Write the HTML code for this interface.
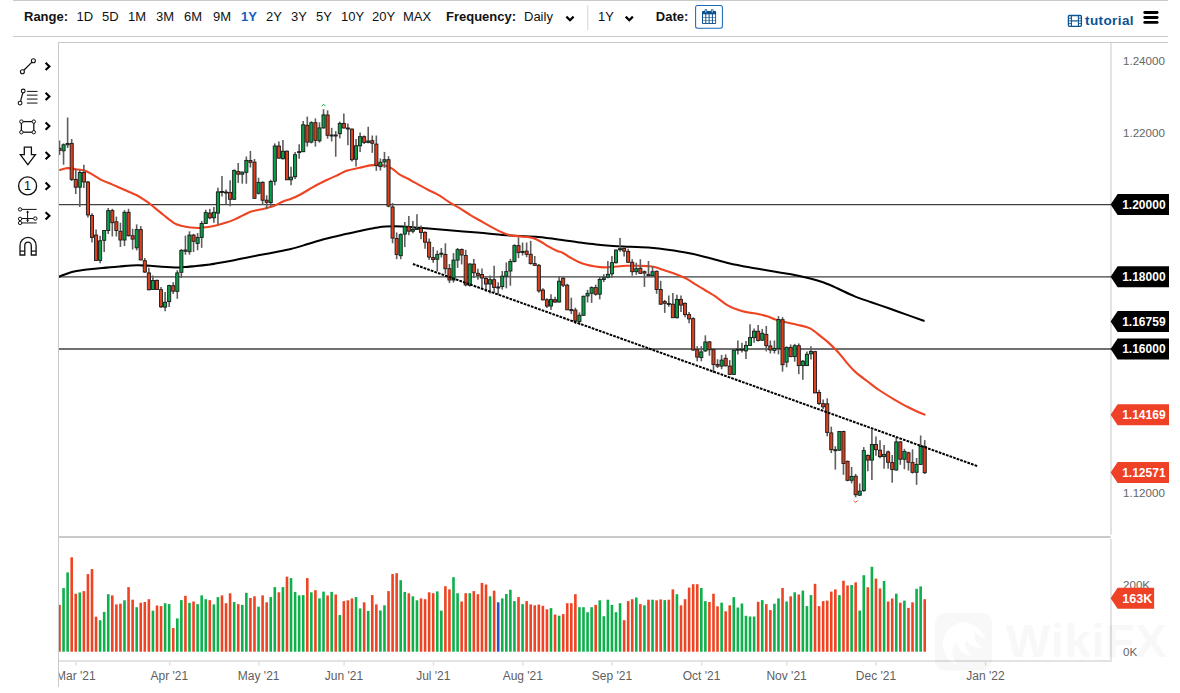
<!DOCTYPE html>
<html><head><meta charset="utf-8"><title>Chart</title>
<style>
html,body{margin:0;padding:0;background:#fff;}
body{width:1180px;height:693px;position:relative;overflow:hidden;font-family:"Liberation Sans",sans-serif;}
.tb span{position:absolute;top:9px;font-size:13px;line-height:16px;color:#111;white-space:nowrap;}
.tb .b{font-weight:bold;}
</style></head><body>
<svg width="1180" height="693" viewBox="0 0 1180 693" style="position:absolute;left:0;top:0">
<defs><clipPath id="cp"><rect x="59" y="43" width="1052" height="618"/></clipPath></defs>
<g fill="none" stroke="#c9c9c9" stroke-width="1">
<line x1="13" y1="0.5" x2="1168" y2="0.5"/>
<line x1="13" y1="36.5" x2="1168" y2="36.5"/>
<line x1="58" y1="42.5" x2="1168" y2="42.5"/>
<line x1="58.5" y1="42" x2="58.5" y2="687"/>
</g>
<line x1="1111" y1="43" x2="1111" y2="534.8" stroke="#e3e3e3" stroke-width="2"/>
<line x1="1111" y1="539" x2="1111" y2="662" stroke="#e3e3e3" stroke-width="2"/>
<line x1="59" y1="537" x2="1110.6" y2="537" stroke="#c9c9c9" stroke-width="2"/>
<line x1="59" y1="661" x2="1110" y2="661" stroke="#e3e3e3" stroke-width="2"/>
<line x1="76.0" y1="661" x2="76.0" y2="665.8" stroke="#e2e2e2" stroke-width="1.5"/>
<line x1="169.6" y1="661" x2="169.6" y2="665.8" stroke="#e2e2e2" stroke-width="1.5"/>
<line x1="258.9" y1="661" x2="258.9" y2="665.8" stroke="#e2e2e2" stroke-width="1.5"/>
<line x1="344.1" y1="661" x2="344.1" y2="665.8" stroke="#e2e2e2" stroke-width="1.5"/>
<line x1="433.5" y1="661" x2="433.5" y2="665.8" stroke="#e2e2e2" stroke-width="1.5"/>
<line x1="523.0" y1="661" x2="523.0" y2="665.8" stroke="#e2e2e2" stroke-width="1.5"/>
<line x1="612.2" y1="661" x2="612.2" y2="665.8" stroke="#e2e2e2" stroke-width="1.5"/>
<line x1="701.7" y1="661" x2="701.7" y2="665.8" stroke="#e2e2e2" stroke-width="1.5"/>
<line x1="786.8" y1="661" x2="786.8" y2="665.8" stroke="#e2e2e2" stroke-width="1.5"/>
<line x1="876.2" y1="661" x2="876.2" y2="665.8" stroke="#e2e2e2" stroke-width="1.5"/>
<line x1="985.6" y1="661" x2="985.6" y2="665.8" stroke="#e2e2e2" stroke-width="1.5"/>
<g opacity="0.023"><path fill-rule="evenodd" d="M945,613 h37 a10,10 0 0 1 10,10 v37.5 a10,10 0 0 1 -10,10 h-37 a10,10 0 0 1 -10,-10 v-37.5 a10,10 0 0 1 10,-10 Z M963,622 C950,624 942,634 943,646 C944,656 950,663 958,665 C951,657 951,648 956,643 C958,650 964,655 972,656 C966,651 964,645 966,640 C970,646 976,649 983,648 C976,644 973,638 975,632 C978,636 982,638 986,638 C982,630 974,622 963,622 Z" fill="#000"/><text x="1006" y="657" font-family="Liberation Sans, sans-serif" font-weight="bold" font-size="47" letter-spacing="0.8" fill="#000">WikiFX</text></g>
<g clip-path="url(#cp)">
<line x1="59" y1="204.67" x2="1111" y2="204.67" stroke="#404040" stroke-width="1.3"/>
<line x1="59" y1="276.83" x2="1111" y2="276.83" stroke="#404040" stroke-width="1.3"/>
<line x1="59" y1="349.0" x2="1111" y2="349.0" stroke="#404040" stroke-width="1.3"/>
<rect x="58.20" y="604.9" width="2.6" height="46.8" fill="#ef4423"/>
<rect x="62.26" y="588.1" width="2.6" height="63.6" fill="#0db04b"/>
<rect x="66.32" y="572.4" width="2.6" height="79.3" fill="#0db04b"/>
<rect x="70.39" y="557.3" width="2.6" height="94.4" fill="#ef4423"/>
<rect x="74.45" y="593.7" width="2.6" height="58.0" fill="#ef4423"/>
<rect x="78.51" y="592.5" width="2.6" height="59.2" fill="#0db04b"/>
<rect x="82.57" y="591.1" width="2.6" height="60.6" fill="#ef4423"/>
<rect x="86.63" y="574.1" width="2.6" height="77.6" fill="#ef4423"/>
<rect x="90.70" y="569.1" width="2.6" height="82.6" fill="#ef4423"/>
<rect x="94.76" y="616.7" width="2.6" height="35.0" fill="#ef4423"/>
<rect x="98.82" y="620.2" width="2.6" height="31.5" fill="#0db04b"/>
<rect x="102.88" y="611.9" width="2.6" height="39.8" fill="#0db04b"/>
<rect x="106.94" y="594.2" width="2.6" height="57.5" fill="#0db04b"/>
<rect x="111.01" y="595.4" width="2.6" height="56.3" fill="#ef4423"/>
<rect x="115.07" y="604.4" width="2.6" height="47.3" fill="#ef4423"/>
<rect x="119.13" y="603.7" width="2.6" height="48.0" fill="#ef4423"/>
<rect x="123.19" y="600.3" width="2.6" height="51.4" fill="#0db04b"/>
<rect x="127.25" y="587.1" width="2.6" height="64.6" fill="#ef4423"/>
<rect x="131.32" y="599.7" width="2.6" height="52.0" fill="#ef4423"/>
<rect x="135.38" y="607.2" width="2.6" height="44.5" fill="#0db04b"/>
<rect x="139.44" y="602.7" width="2.6" height="49.0" fill="#ef4423"/>
<rect x="143.50" y="602.0" width="2.6" height="49.7" fill="#ef4423"/>
<rect x="147.56" y="599.2" width="2.6" height="52.5" fill="#ef4423"/>
<rect x="151.63" y="610.6" width="2.6" height="41.1" fill="#0db04b"/>
<rect x="155.69" y="605.5" width="2.6" height="46.2" fill="#ef4423"/>
<rect x="159.75" y="606.1" width="2.6" height="45.6" fill="#ef4423"/>
<rect x="163.81" y="603.2" width="2.6" height="48.5" fill="#0db04b"/>
<rect x="167.87" y="604.1" width="2.6" height="47.6" fill="#0db04b"/>
<rect x="171.94" y="628.0" width="2.6" height="23.7" fill="#ef4423"/>
<rect x="176.00" y="618.4" width="2.6" height="33.3" fill="#0db04b"/>
<rect x="180.06" y="600.1" width="2.6" height="51.6" fill="#0db04b"/>
<rect x="184.12" y="595.8" width="2.6" height="55.9" fill="#ef4423"/>
<rect x="188.18" y="602.9" width="2.6" height="48.8" fill="#0db04b"/>
<rect x="192.25" y="601.5" width="2.6" height="50.2" fill="#ef4423"/>
<rect x="196.31" y="604.1" width="2.6" height="47.6" fill="#0db04b"/>
<rect x="200.37" y="595.4" width="2.6" height="56.3" fill="#0db04b"/>
<rect x="204.43" y="599.2" width="2.6" height="52.5" fill="#0db04b"/>
<rect x="208.49" y="600.1" width="2.6" height="51.6" fill="#ef4423"/>
<rect x="212.56" y="604.4" width="2.6" height="47.3" fill="#0db04b"/>
<rect x="216.62" y="597.1" width="2.6" height="54.6" fill="#0db04b"/>
<rect x="220.68" y="595.4" width="2.6" height="56.3" fill="#ef4423"/>
<rect x="224.74" y="603.2" width="2.6" height="48.5" fill="#ef4423"/>
<rect x="228.80" y="593.3" width="2.6" height="58.4" fill="#ef4423"/>
<rect x="232.87" y="602.0" width="2.6" height="49.7" fill="#0db04b"/>
<rect x="236.93" y="604.1" width="2.6" height="47.6" fill="#ef4423"/>
<rect x="240.99" y="604.9" width="2.6" height="46.8" fill="#0db04b"/>
<rect x="245.05" y="592.8" width="2.6" height="58.9" fill="#0db04b"/>
<rect x="249.11" y="598.0" width="2.6" height="53.7" fill="#ef4423"/>
<rect x="253.18" y="596.3" width="2.6" height="55.4" fill="#ef4423"/>
<rect x="257.24" y="606.7" width="2.6" height="45.0" fill="#0db04b"/>
<rect x="261.30" y="595.4" width="2.6" height="56.3" fill="#ef4423"/>
<rect x="265.36" y="602.3" width="2.6" height="49.4" fill="#ef4423"/>
<rect x="269.42" y="597.1" width="2.6" height="54.6" fill="#0db04b"/>
<rect x="273.49" y="587.1" width="2.6" height="64.6" fill="#0db04b"/>
<rect x="277.55" y="592.3" width="2.6" height="59.4" fill="#ef4423"/>
<rect x="281.61" y="587.1" width="2.6" height="64.6" fill="#0db04b"/>
<rect x="285.67" y="576.7" width="2.6" height="75.0" fill="#ef4423"/>
<rect x="289.73" y="578.1" width="2.6" height="73.6" fill="#0db04b"/>
<rect x="293.80" y="591.9" width="2.6" height="59.8" fill="#0db04b"/>
<rect x="297.86" y="595.4" width="2.6" height="56.3" fill="#0db04b"/>
<rect x="301.92" y="595.1" width="2.6" height="56.6" fill="#0db04b"/>
<rect x="305.98" y="578.1" width="2.6" height="73.6" fill="#ef4423"/>
<rect x="310.04" y="592.3" width="2.6" height="59.4" fill="#0db04b"/>
<rect x="314.11" y="590.2" width="2.6" height="61.5" fill="#ef4423"/>
<rect x="318.17" y="598.4" width="2.6" height="53.3" fill="#0db04b"/>
<rect x="322.23" y="591.6" width="2.6" height="60.1" fill="#0db04b"/>
<rect x="326.29" y="595.4" width="2.6" height="56.3" fill="#ef4423"/>
<rect x="330.35" y="591.9" width="2.6" height="59.8" fill="#0db04b"/>
<rect x="334.42" y="594.5" width="2.6" height="57.2" fill="#ef4423"/>
<rect x="338.48" y="615.0" width="2.6" height="36.7" fill="#0db04b"/>
<rect x="342.54" y="601.1" width="2.6" height="50.6" fill="#ef4423"/>
<rect x="346.60" y="600.3" width="2.6" height="51.4" fill="#ef4423"/>
<rect x="350.66" y="598.4" width="2.6" height="53.3" fill="#ef4423"/>
<rect x="354.73" y="597.1" width="2.6" height="54.6" fill="#0db04b"/>
<rect x="358.79" y="608.4" width="2.6" height="43.3" fill="#0db04b"/>
<rect x="362.85" y="602.3" width="2.6" height="49.4" fill="#ef4423"/>
<rect x="366.91" y="611.0" width="2.6" height="40.7" fill="#0db04b"/>
<rect x="370.97" y="595.1" width="2.6" height="56.6" fill="#ef4423"/>
<rect x="375.04" y="604.4" width="2.6" height="47.3" fill="#ef4423"/>
<rect x="379.10" y="610.5" width="2.6" height="41.2" fill="#0db04b"/>
<rect x="383.16" y="605.3" width="2.6" height="46.4" fill="#0db04b"/>
<rect x="387.22" y="591.1" width="2.6" height="60.6" fill="#ef4423"/>
<rect x="391.28" y="574.1" width="2.6" height="77.6" fill="#ef4423"/>
<rect x="395.35" y="573.2" width="2.6" height="78.5" fill="#ef4423"/>
<rect x="399.41" y="580.2" width="2.6" height="71.5" fill="#0db04b"/>
<rect x="403.47" y="591.9" width="2.6" height="59.8" fill="#0db04b"/>
<rect x="407.53" y="593.3" width="2.6" height="58.4" fill="#ef4423"/>
<rect x="411.59" y="596.3" width="2.6" height="55.4" fill="#0db04b"/>
<rect x="415.66" y="600.3" width="2.6" height="51.4" fill="#0db04b"/>
<rect x="419.72" y="598.4" width="2.6" height="53.3" fill="#ef4423"/>
<rect x="423.78" y="599.2" width="2.6" height="52.5" fill="#ef4423"/>
<rect x="427.84" y="592.3" width="2.6" height="59.4" fill="#ef4423"/>
<rect x="431.90" y="593.2" width="2.6" height="58.5" fill="#ef4423"/>
<rect x="435.97" y="591.4" width="2.6" height="60.3" fill="#0db04b"/>
<rect x="440.03" y="610.6" width="2.6" height="41.1" fill="#0db04b"/>
<rect x="444.09" y="586.2" width="2.6" height="65.5" fill="#ef4423"/>
<rect x="448.15" y="589.4" width="2.6" height="62.3" fill="#ef4423"/>
<rect x="452.21" y="577.2" width="2.6" height="74.5" fill="#0db04b"/>
<rect x="456.28" y="593.2" width="2.6" height="58.5" fill="#0db04b"/>
<rect x="460.34" y="601.5" width="2.6" height="50.2" fill="#ef4423"/>
<rect x="464.40" y="593.2" width="2.6" height="58.5" fill="#ef4423"/>
<rect x="468.46" y="593.2" width="2.6" height="58.5" fill="#0db04b"/>
<rect x="472.52" y="591.1" width="2.6" height="60.6" fill="#ef4423"/>
<rect x="476.59" y="594.2" width="2.6" height="57.5" fill="#ef4423"/>
<rect x="480.65" y="582.9" width="2.6" height="68.8" fill="#ef4423"/>
<rect x="484.71" y="584.5" width="2.6" height="67.2" fill="#ef4423"/>
<rect x="488.77" y="596.3" width="2.6" height="55.4" fill="#0db04b"/>
<rect x="492.83" y="590.7" width="2.6" height="61.0" fill="#ef4423"/>
<rect x="496.90" y="602.3" width="2.6" height="49.4" fill="#2b50c8"/>
<rect x="500.96" y="598.4" width="2.6" height="53.3" fill="#0db04b"/>
<rect x="505.02" y="594.0" width="2.6" height="57.7" fill="#0db04b"/>
<rect x="509.08" y="589.7" width="2.6" height="62.0" fill="#0db04b"/>
<rect x="513.14" y="601.1" width="2.6" height="50.6" fill="#0db04b"/>
<rect x="517.21" y="597.1" width="2.6" height="54.6" fill="#ef4423"/>
<rect x="521.27" y="604.1" width="2.6" height="47.6" fill="#0db04b"/>
<rect x="525.33" y="601.1" width="2.6" height="50.6" fill="#ef4423"/>
<rect x="529.39" y="604.4" width="2.6" height="47.3" fill="#ef4423"/>
<rect x="533.45" y="605.3" width="2.6" height="46.4" fill="#ef4423"/>
<rect x="537.52" y="604.6" width="2.6" height="47.1" fill="#ef4423"/>
<rect x="541.58" y="605.8" width="2.6" height="45.9" fill="#ef4423"/>
<rect x="545.64" y="609.3" width="2.6" height="42.4" fill="#ef4423"/>
<rect x="549.70" y="608.1" width="2.6" height="43.6" fill="#0db04b"/>
<rect x="553.76" y="614.5" width="2.6" height="37.2" fill="#ef4423"/>
<rect x="557.83" y="615.7" width="2.6" height="36.0" fill="#0db04b"/>
<rect x="561.89" y="614.1" width="2.6" height="37.6" fill="#ef4423"/>
<rect x="565.95" y="603.2" width="2.6" height="48.5" fill="#ef4423"/>
<rect x="570.01" y="603.2" width="2.6" height="48.5" fill="#ef4423"/>
<rect x="574.07" y="594.2" width="2.6" height="57.5" fill="#ef4423"/>
<rect x="578.14" y="607.2" width="2.6" height="44.5" fill="#0db04b"/>
<rect x="582.20" y="607.2" width="2.6" height="44.5" fill="#0db04b"/>
<rect x="586.26" y="612.2" width="2.6" height="39.5" fill="#0db04b"/>
<rect x="590.32" y="607.2" width="2.6" height="44.5" fill="#0db04b"/>
<rect x="594.38" y="604.9" width="2.6" height="46.8" fill="#ef4423"/>
<rect x="598.45" y="600.3" width="2.6" height="51.4" fill="#0db04b"/>
<rect x="602.51" y="616.2" width="2.6" height="35.5" fill="#0db04b"/>
<rect x="606.57" y="599.7" width="2.6" height="52.0" fill="#0db04b"/>
<rect x="610.63" y="604.9" width="2.6" height="46.8" fill="#0db04b"/>
<rect x="614.69" y="612.2" width="2.6" height="39.5" fill="#0db04b"/>
<rect x="618.76" y="603.2" width="2.6" height="48.5" fill="#0db04b"/>
<rect x="622.82" y="620.2" width="2.6" height="31.5" fill="#ef4423"/>
<rect x="626.88" y="601.1" width="2.6" height="50.6" fill="#ef4423"/>
<rect x="630.94" y="599.2" width="2.6" height="52.5" fill="#ef4423"/>
<rect x="635.00" y="597.5" width="2.6" height="54.2" fill="#0db04b"/>
<rect x="639.07" y="604.1" width="2.6" height="47.6" fill="#ef4423"/>
<rect x="643.13" y="605.3" width="2.6" height="46.4" fill="#0db04b"/>
<rect x="647.19" y="599.7" width="2.6" height="52.0" fill="#ef4423"/>
<rect x="651.25" y="599.7" width="2.6" height="52.0" fill="#0db04b"/>
<rect x="655.31" y="600.3" width="2.6" height="51.4" fill="#ef4423"/>
<rect x="659.38" y="599.4" width="2.6" height="52.3" fill="#ef4423"/>
<rect x="663.44" y="600.1" width="2.6" height="51.6" fill="#0db04b"/>
<rect x="667.50" y="599.7" width="2.6" height="52.0" fill="#ef4423"/>
<rect x="671.56" y="589.4" width="2.6" height="62.3" fill="#ef4423"/>
<rect x="675.62" y="594.2" width="2.6" height="57.5" fill="#0db04b"/>
<rect x="679.69" y="605.3" width="2.6" height="46.4" fill="#ef4423"/>
<rect x="683.75" y="599.2" width="2.6" height="52.5" fill="#ef4423"/>
<rect x="687.81" y="587.6" width="2.6" height="64.1" fill="#ef4423"/>
<rect x="691.87" y="584.2" width="2.6" height="67.5" fill="#ef4423"/>
<rect x="695.93" y="584.2" width="2.6" height="67.5" fill="#ef4423"/>
<rect x="700.00" y="588.0" width="2.6" height="63.7" fill="#0db04b"/>
<rect x="704.06" y="601.1" width="2.6" height="50.6" fill="#0db04b"/>
<rect x="708.12" y="602.0" width="2.6" height="49.7" fill="#ef4423"/>
<rect x="712.18" y="593.7" width="2.6" height="58.0" fill="#ef4423"/>
<rect x="716.24" y="606.3" width="2.6" height="45.4" fill="#ef4423"/>
<rect x="720.31" y="602.7" width="2.6" height="49.0" fill="#0db04b"/>
<rect x="724.37" y="611.3" width="2.6" height="40.4" fill="#ef4423"/>
<rect x="728.43" y="605.3" width="2.6" height="46.4" fill="#ef4423"/>
<rect x="732.49" y="597.1" width="2.6" height="54.6" fill="#0db04b"/>
<rect x="736.55" y="607.5" width="2.6" height="44.2" fill="#0db04b"/>
<rect x="740.62" y="603.5" width="2.6" height="48.2" fill="#0db04b"/>
<rect x="744.68" y="615.8" width="2.6" height="35.9" fill="#0db04b"/>
<rect x="748.74" y="616.5" width="2.6" height="35.2" fill="#0db04b"/>
<rect x="752.80" y="616.5" width="2.6" height="35.2" fill="#0db04b"/>
<rect x="756.86" y="601.8" width="2.6" height="49.9" fill="#ef4423"/>
<rect x="760.93" y="600.1" width="2.6" height="51.6" fill="#0db04b"/>
<rect x="764.99" y="604.1" width="2.6" height="47.6" fill="#ef4423"/>
<rect x="769.05" y="610.1" width="2.6" height="41.6" fill="#ef4423"/>
<rect x="773.11" y="603.7" width="2.6" height="48.0" fill="#0db04b"/>
<rect x="777.17" y="598.4" width="2.6" height="53.3" fill="#0db04b"/>
<rect x="781.24" y="588.0" width="2.6" height="63.7" fill="#ef4423"/>
<rect x="785.30" y="601.5" width="2.6" height="50.2" fill="#0db04b"/>
<rect x="789.36" y="596.3" width="2.6" height="55.4" fill="#ef4423"/>
<rect x="793.42" y="592.3" width="2.6" height="59.4" fill="#0db04b"/>
<rect x="797.48" y="594.5" width="2.6" height="57.2" fill="#ef4423"/>
<rect x="801.55" y="590.6" width="2.6" height="61.1" fill="#0db04b"/>
<rect x="805.61" y="606.1" width="2.6" height="45.6" fill="#0db04b"/>
<rect x="809.67" y="595.1" width="2.6" height="56.6" fill="#0db04b"/>
<rect x="813.73" y="583.8" width="2.6" height="67.9" fill="#ef4423"/>
<rect x="817.79" y="606.1" width="2.6" height="45.6" fill="#ef4423"/>
<rect x="821.86" y="601.1" width="2.6" height="50.6" fill="#ef4423"/>
<rect x="825.92" y="600.6" width="2.6" height="51.1" fill="#ef4423"/>
<rect x="829.98" y="591.6" width="2.6" height="60.1" fill="#ef4423"/>
<rect x="834.04" y="589.4" width="2.6" height="62.3" fill="#ef4423"/>
<rect x="838.10" y="595.1" width="2.6" height="56.6" fill="#0db04b"/>
<rect x="842.17" y="580.7" width="2.6" height="71.0" fill="#ef4423"/>
<rect x="846.23" y="585.5" width="2.6" height="66.2" fill="#ef4423"/>
<rect x="850.29" y="585.0" width="2.6" height="66.7" fill="#0db04b"/>
<rect x="854.35" y="582.4" width="2.6" height="69.3" fill="#ef4423"/>
<rect x="858.41" y="610.6" width="2.6" height="41.1" fill="#0db04b"/>
<rect x="862.48" y="575.2" width="2.6" height="76.5" fill="#0db04b"/>
<rect x="866.54" y="587.3" width="2.6" height="64.4" fill="#ef4423"/>
<rect x="870.60" y="566.8" width="2.6" height="84.9" fill="#0db04b"/>
<rect x="874.66" y="578.6" width="2.6" height="73.1" fill="#ef4423"/>
<rect x="878.72" y="588.5" width="2.6" height="63.2" fill="#ef4423"/>
<rect x="882.79" y="581.0" width="2.6" height="70.7" fill="#0db04b"/>
<rect x="886.85" y="601.5" width="2.6" height="50.2" fill="#ef4423"/>
<rect x="890.91" y="598.5" width="2.6" height="53.2" fill="#ef4423"/>
<rect x="894.97" y="593.7" width="2.6" height="58.0" fill="#0db04b"/>
<rect x="899.03" y="602.7" width="2.6" height="49.0" fill="#ef4423"/>
<rect x="903.10" y="600.6" width="2.6" height="51.1" fill="#0db04b"/>
<rect x="907.16" y="607.9" width="2.6" height="43.8" fill="#ef4423"/>
<rect x="911.22" y="602.3" width="2.6" height="49.4" fill="#ef4423"/>
<rect x="915.28" y="588.8" width="2.6" height="62.9" fill="#0db04b"/>
<rect x="919.34" y="586.4" width="2.6" height="65.3" fill="#0db04b"/>
<rect x="923.41" y="599.2" width="2.6" height="52.5" fill="#ef4423"/>
<path d="M59.0,276.7 C59.8,276.4 62.1,275.5 64.0,274.8 C65.9,274.1 68.8,272.8 71.0,272.2 C73.2,271.6 75.4,271.2 78.0,270.8 C80.6,270.4 83.1,270.0 87.0,269.6 C90.9,269.2 97.1,268.5 102.3,268.0 C107.5,267.5 114.1,266.8 119.6,266.4 C125.1,266.0 132.0,265.4 136.9,265.3 C141.8,265.2 146.1,265.6 150.0,265.8 C153.9,266.0 156.9,266.5 161.5,266.8 C166.1,267.1 175.1,267.5 178.8,267.5 C182.5,267.5 181.8,267.3 184.6,267.1 C187.4,266.9 192.0,266.4 196.1,266.0 C200.2,265.6 206.7,264.9 210.0,264.5 C213.3,264.1 213.0,264.0 216.9,263.3 C220.8,262.6 229.7,261.0 234.2,260.2 C238.7,259.4 241.4,258.7 245.0,258.0 C248.6,257.3 252.4,256.5 257.0,255.6 C261.6,254.7 268.5,253.6 273.9,252.5 C279.3,251.4 285.4,250.3 290.8,249.0 C296.2,247.7 302.4,245.7 307.8,244.1 C313.2,242.5 319.3,240.5 324.7,239.0 C330.1,237.5 336.3,236.1 341.7,234.9 C347.1,233.7 353.2,232.3 358.6,231.2 C364.0,230.1 371.2,228.6 375.6,227.8 C380.0,227.0 381.5,226.6 385.8,226.4 C390.1,226.2 397.3,226.2 402.7,226.4 C408.1,226.6 413.2,227.3 419.7,227.8 C426.2,228.3 434.2,229.0 443.4,229.8 C452.6,230.6 466.5,231.6 477.3,232.5 C488.1,233.4 501.4,234.9 511.2,235.6 C521.0,236.3 530.2,236.3 538.3,237.0 C546.4,237.7 555.5,239.1 562.0,240.0 C568.5,240.9 573.6,241.7 579.0,242.4 C584.4,243.1 590.5,243.9 595.9,244.5 C601.3,245.1 607.4,245.6 612.9,246.0 C618.4,246.4 623.9,246.5 630.0,246.8 C636.1,247.1 644.8,247.3 650.8,247.8 C656.8,248.3 661.8,248.9 667.8,249.7 C673.8,250.5 681.6,251.6 688.1,252.9 C694.6,254.2 702.0,256.2 708.5,257.8 C715.0,259.4 722.3,261.7 728.8,263.2 C735.3,264.7 742.7,266.1 749.2,267.3 C755.7,268.5 763.0,269.6 769.5,270.7 C776.0,271.8 783.3,272.9 789.8,274.1 C796.3,275.3 804.8,277.2 810.2,278.5 C815.6,279.8 819.4,280.9 823.7,282.5 C828.0,284.1 832.4,286.1 837.3,288.3 C842.2,290.5 848.8,293.9 854.2,296.1 C859.6,298.3 865.8,300.3 871.2,302.2 C876.6,304.1 882.7,306.1 888.1,308.0 C893.5,309.9 899.4,312.1 905.1,314.1 C910.8,316.1 920.7,319.7 923.7,320.8" fill="none" stroke="#000" stroke-width="2.05" stroke-linejoin="round" stroke-linecap="round"/>
<path d="M60.0,170.0 C60.6,169.8 62.7,169.1 64.0,168.8 C65.3,168.5 66.1,168.0 68.0,168.1 C69.9,168.2 73.2,168.8 75.8,169.2 C78.4,169.6 81.8,169.8 84.4,170.6 C87.0,171.4 89.4,172.9 92.2,174.4 C95.0,175.9 98.5,178.5 101.7,180.1 C104.9,181.7 108.5,182.8 112.1,184.4 C115.7,186.0 120.3,188.1 124.2,189.8 C128.1,191.5 133.0,193.3 136.3,195.0 C139.6,196.7 142.7,198.9 145.0,200.4 C147.3,201.9 147.8,202.2 150.7,204.5 C153.6,206.8 159.2,211.6 162.9,214.5 C166.6,217.4 170.6,220.9 173.7,222.8 C176.8,224.7 179.5,225.3 182.3,226.1 C185.1,226.9 188.2,227.2 191.0,227.5 C193.8,227.8 196.8,228.0 199.6,227.9 C202.4,227.8 205.5,227.4 208.3,227.0 C211.1,226.6 214.1,226.0 216.9,225.3 C219.7,224.6 222.8,223.6 225.6,222.7 C228.4,221.8 231.4,220.8 234.2,219.6 C237.0,218.4 240.4,216.6 242.9,215.4 C245.4,214.2 247.8,212.8 249.8,212.0 C251.8,211.2 252.8,211.2 255.4,210.6 C258.0,210.0 262.8,209.1 265.8,208.3 C268.8,207.5 271.6,206.8 274.4,205.7 C277.2,204.6 280.3,202.7 283.1,201.6 C285.9,200.5 288.9,199.7 291.7,198.6 C294.5,197.5 297.6,196.0 300.4,194.5 C303.2,193.0 306.2,191.1 309.0,189.5 C311.8,187.9 314.9,186.0 317.7,184.5 C320.5,183.0 323.5,181.5 326.3,180.2 C329.1,178.9 332.0,177.6 335.4,176.1 C338.8,174.6 343.6,171.9 347.5,170.6 C351.4,169.3 356.0,168.6 359.6,167.8 C363.2,167.0 367.2,165.9 370.0,165.4 C372.8,164.9 374.4,164.9 376.9,164.9 C379.4,164.9 383.1,165.1 385.6,165.7 C388.1,166.3 390.3,167.5 392.5,168.9 C394.7,170.3 396.9,172.8 399.4,174.4 C401.9,176.0 405.5,177.4 408.0,178.7 C410.5,180.0 411.7,180.9 415.0,182.7 C418.3,184.5 424.6,188.0 428.4,190.0 C432.2,192.0 435.5,193.3 438.8,195.2 C442.1,197.1 445.9,200.0 449.2,202.1 C452.5,204.2 456.3,206.2 459.6,208.2 C462.9,210.2 466.9,212.9 470.0,214.8 C473.1,216.7 475.6,218.1 479.0,220.0 C482.4,221.9 487.2,224.8 491.1,226.9 C495.0,229.0 500.0,231.6 503.3,233.0 C506.6,234.4 509.1,235.1 511.9,235.6 C514.7,236.1 517.8,236.1 520.6,236.4 C523.4,236.7 526.7,236.9 529.2,237.3 C531.7,237.7 533.9,238.3 536.1,239.2 C538.3,240.1 541.0,241.8 543.0,243.0 C545.0,244.2 546.4,245.3 548.7,246.6 C551.0,247.9 555.1,250.0 557.3,251.0 C559.5,252.0 560.6,251.7 562.5,252.7 C564.4,253.7 566.9,255.6 569.4,257.0 C571.9,258.4 575.3,260.5 578.1,261.7 C580.9,262.9 583.9,264.0 586.7,264.8 C589.5,265.6 592.6,266.1 595.4,266.5 C598.2,266.9 601.2,267.3 604.0,267.4 C606.8,267.5 610.2,267.1 612.7,266.9 C615.2,266.7 617.3,266.4 619.6,266.2 C621.9,266.0 624.1,265.9 626.9,265.8 C629.7,265.7 634.0,265.8 637.3,265.8 C640.6,265.8 644.9,265.9 647.7,266.1 C650.5,266.3 651.8,266.3 654.6,267.0 C657.4,267.7 661.7,269.4 665.0,270.5 C668.3,271.6 672.1,272.7 675.4,273.9 C678.7,275.1 682.9,276.9 685.7,278.3 C688.5,279.7 690.2,281.1 692.7,282.6 C695.2,284.1 699.4,286.6 701.3,287.8 C703.2,289.0 702.3,288.5 704.7,290.0 C707.1,291.5 712.3,294.4 716.0,296.9 C719.7,299.4 724.5,303.5 728.1,305.6 C731.7,307.7 735.1,308.8 738.4,309.9 C741.7,311.0 745.5,311.8 748.8,312.5 C752.1,313.2 756.1,313.5 759.2,314.2 C762.3,314.9 765.3,315.8 767.9,316.6 C770.5,317.4 772.5,318.5 775.4,319.4 C778.3,320.3 782.2,321.4 785.8,322.3 C789.4,323.2 794.0,323.9 797.9,324.9 C801.8,325.9 806.4,326.6 810.0,328.4 C813.6,330.2 817.4,333.7 820.4,336.1 C823.4,338.5 826.2,340.6 829.0,343.1 C831.8,345.6 834.9,348.7 837.7,351.7 C840.5,354.7 843.5,358.9 846.3,362.1 C849.1,365.3 851.7,368.6 855.0,371.6 C858.3,374.6 863.2,378.1 867.0,381.0 C870.8,383.9 874.7,387.1 879.0,390.0 C883.3,392.9 889.4,396.6 894.0,399.3 C898.6,402.0 903.9,405.0 907.8,407.0 C911.7,409.0 915.5,410.8 918.2,412.0 C920.9,413.2 923.6,414.2 924.6,414.6" fill="none" stroke="#ee4423" stroke-width="2.1" stroke-linejoin="round" stroke-linecap="round"/>
<g stroke-linecap="butt">
<line x1="59.50" y1="140.5" x2="59.50" y2="155.0" stroke="#5e5e5e" stroke-width="1.6"/>
<rect x="57.95" y="148.3" width="3.1" height="2.0" fill="#d9411f" stroke="#1a1a1a" stroke-width="0.9"/>
<line x1="63.56" y1="143.4" x2="63.56" y2="164.7" stroke="#5e5e5e" stroke-width="1.6"/>
<rect x="62.01" y="144.8" width="3.1" height="6.0" fill="#0aa04a" stroke="#1a1a1a" stroke-width="0.9"/>
<line x1="67.62" y1="117.5" x2="67.62" y2="148.0" stroke="#5e5e5e" stroke-width="1.6"/>
<rect x="66.07" y="143.4" width="3.1" height="1.4" fill="#0aa04a" stroke="#1a1a1a" stroke-width="0.9"/>
<line x1="71.69" y1="139.0" x2="71.69" y2="181.0" stroke="#5e5e5e" stroke-width="1.6"/>
<rect x="70.14" y="143.4" width="3.1" height="36.0" fill="#d9411f" stroke="#1a1a1a" stroke-width="0.9"/>
<line x1="75.75" y1="169.0" x2="75.75" y2="194.0" stroke="#5e5e5e" stroke-width="1.6"/>
<rect x="74.20" y="179.4" width="3.1" height="7.8" fill="#d9411f" stroke="#1a1a1a" stroke-width="0.9"/>
<line x1="79.81" y1="170.0" x2="79.81" y2="207.0" stroke="#5e5e5e" stroke-width="1.6"/>
<rect x="78.26" y="172.5" width="3.1" height="14.7" fill="#0aa04a" stroke="#1a1a1a" stroke-width="0.9"/>
<line x1="83.87" y1="164.7" x2="83.87" y2="188.0" stroke="#5e5e5e" stroke-width="1.6"/>
<rect x="82.32" y="172.5" width="3.1" height="9.5" fill="#d9411f" stroke="#1a1a1a" stroke-width="0.9"/>
<line x1="87.93" y1="181.0" x2="87.93" y2="217.5" stroke="#5e5e5e" stroke-width="1.6"/>
<rect x="86.38" y="182.0" width="3.1" height="32.9" fill="#d9411f" stroke="#1a1a1a" stroke-width="0.9"/>
<line x1="92.00" y1="213.2" x2="92.00" y2="242.6" stroke="#5e5e5e" stroke-width="1.6"/>
<rect x="90.45" y="215.4" width="3.1" height="22.0" fill="#d9411f" stroke="#1a1a1a" stroke-width="0.9"/>
<line x1="96.06" y1="229.6" x2="96.06" y2="260.7" stroke="#5e5e5e" stroke-width="1.6"/>
<rect x="94.51" y="235.1" width="3.1" height="25.3" fill="#d9411f" stroke="#1a1a1a" stroke-width="0.9"/>
<line x1="100.12" y1="235.7" x2="100.12" y2="263.3" stroke="#5e5e5e" stroke-width="1.6"/>
<rect x="98.57" y="240.8" width="3.1" height="19.6" fill="#0aa04a" stroke="#1a1a1a" stroke-width="0.9"/>
<line x1="104.18" y1="230.5" x2="104.18" y2="252.0" stroke="#5e5e5e" stroke-width="1.6"/>
<rect x="102.63" y="230.5" width="3.1" height="9.8" fill="#0aa04a" stroke="#1a1a1a" stroke-width="0.9"/>
<line x1="108.24" y1="208.0" x2="108.24" y2="234.0" stroke="#5e5e5e" stroke-width="1.6"/>
<rect x="106.69" y="210.6" width="3.1" height="19.9" fill="#0aa04a" stroke="#1a1a1a" stroke-width="0.9"/>
<line x1="112.31" y1="208.8" x2="112.31" y2="236.5" stroke="#5e5e5e" stroke-width="1.6"/>
<rect x="110.76" y="210.6" width="3.1" height="12.1" fill="#d9411f" stroke="#1a1a1a" stroke-width="0.9"/>
<line x1="116.37" y1="216.6" x2="116.37" y2="236.5" stroke="#5e5e5e" stroke-width="1.6"/>
<rect x="114.82" y="221.8" width="3.1" height="8.7" fill="#d9411f" stroke="#1a1a1a" stroke-width="0.9"/>
<line x1="120.43" y1="222.7" x2="120.43" y2="247.0" stroke="#5e5e5e" stroke-width="1.6"/>
<rect x="118.88" y="231.3" width="3.1" height="8.7" fill="#d9411f" stroke="#1a1a1a" stroke-width="0.9"/>
<line x1="124.49" y1="210.2" x2="124.49" y2="246.0" stroke="#5e5e5e" stroke-width="1.6"/>
<rect x="122.94" y="212.3" width="3.1" height="27.7" fill="#0aa04a" stroke="#1a1a1a" stroke-width="0.9"/>
<line x1="128.55" y1="208.8" x2="128.55" y2="236.5" stroke="#5e5e5e" stroke-width="1.6"/>
<rect x="127.00" y="212.3" width="3.1" height="23.4" fill="#d9411f" stroke="#1a1a1a" stroke-width="0.9"/>
<line x1="132.62" y1="228.7" x2="132.62" y2="249.5" stroke="#5e5e5e" stroke-width="1.6"/>
<rect x="131.07" y="235.7" width="3.1" height="3.4" fill="#d9411f" stroke="#1a1a1a" stroke-width="0.9"/>
<line x1="136.68" y1="224.4" x2="136.68" y2="250.4" stroke="#5e5e5e" stroke-width="1.6"/>
<rect x="135.13" y="229.6" width="3.1" height="18.2" fill="#0aa04a" stroke="#1a1a1a" stroke-width="0.9"/>
<line x1="140.74" y1="226.1" x2="140.74" y2="260.4" stroke="#5e5e5e" stroke-width="1.6"/>
<rect x="139.19" y="229.6" width="3.1" height="30.3" fill="#d9411f" stroke="#1a1a1a" stroke-width="0.9"/>
<line x1="144.80" y1="258.1" x2="144.80" y2="272.9" stroke="#5e5e5e" stroke-width="1.6"/>
<rect x="143.25" y="260.7" width="3.1" height="11.3" fill="#d9411f" stroke="#1a1a1a" stroke-width="0.9"/>
<line x1="148.86" y1="267.7" x2="148.86" y2="290.2" stroke="#5e5e5e" stroke-width="1.6"/>
<rect x="147.31" y="272.9" width="3.1" height="16.9" fill="#d9411f" stroke="#1a1a1a" stroke-width="0.9"/>
<line x1="152.93" y1="275.4" x2="152.93" y2="289.8" stroke="#5e5e5e" stroke-width="1.6"/>
<rect x="151.38" y="280.5" width="3.1" height="9.0" fill="#0aa04a" stroke="#1a1a1a" stroke-width="0.9"/>
<line x1="156.99" y1="279.5" x2="156.99" y2="290.0" stroke="#5e5e5e" stroke-width="1.6"/>
<rect x="155.44" y="280.4" width="3.1" height="9.1" fill="#d9411f" stroke="#1a1a1a" stroke-width="0.9"/>
<line x1="161.05" y1="287.0" x2="161.05" y2="308.0" stroke="#5e5e5e" stroke-width="1.6"/>
<rect x="159.50" y="289.7" width="3.1" height="17.1" fill="#d9411f" stroke="#1a1a1a" stroke-width="0.9"/>
<line x1="165.11" y1="291.9" x2="165.11" y2="311.2" stroke="#5e5e5e" stroke-width="1.6"/>
<rect x="163.56" y="302.3" width="3.1" height="4.8" fill="#0aa04a" stroke="#1a1a1a" stroke-width="0.9"/>
<line x1="169.17" y1="284.7" x2="169.17" y2="307.0" stroke="#5e5e5e" stroke-width="1.6"/>
<rect x="167.62" y="285.6" width="3.1" height="16.0" fill="#0aa04a" stroke="#1a1a1a" stroke-width="0.9"/>
<line x1="173.24" y1="282.2" x2="173.24" y2="294.0" stroke="#5e5e5e" stroke-width="1.6"/>
<rect x="171.69" y="285.7" width="3.1" height="5.5" fill="#d9411f" stroke="#1a1a1a" stroke-width="0.9"/>
<line x1="177.30" y1="270.2" x2="177.30" y2="298.8" stroke="#5e5e5e" stroke-width="1.6"/>
<rect x="175.75" y="272.9" width="3.1" height="18.4" fill="#0aa04a" stroke="#1a1a1a" stroke-width="0.9"/>
<line x1="181.36" y1="249.0" x2="181.36" y2="278.0" stroke="#5e5e5e" stroke-width="1.6"/>
<rect x="179.81" y="250.4" width="3.1" height="21.9" fill="#0aa04a" stroke="#1a1a1a" stroke-width="0.9"/>
<line x1="185.42" y1="235.6" x2="185.42" y2="254.7" stroke="#5e5e5e" stroke-width="1.6"/>
<rect x="183.87" y="250.0" width="3.1" height="1.2" fill="#d9411f" stroke="#1a1a1a" stroke-width="0.9"/>
<line x1="189.48" y1="231.3" x2="189.48" y2="254.7" stroke="#5e5e5e" stroke-width="1.6"/>
<rect x="187.93" y="235.1" width="3.1" height="16.6" fill="#0aa04a" stroke="#1a1a1a" stroke-width="0.9"/>
<line x1="193.55" y1="233.9" x2="193.55" y2="252.0" stroke="#5e5e5e" stroke-width="1.6"/>
<rect x="192.00" y="235.1" width="3.1" height="6.2" fill="#d9411f" stroke="#1a1a1a" stroke-width="0.9"/>
<line x1="197.61" y1="233.0" x2="197.61" y2="250.3" stroke="#5e5e5e" stroke-width="1.6"/>
<rect x="196.06" y="237.4" width="3.1" height="6.0" fill="#0aa04a" stroke="#1a1a1a" stroke-width="0.9"/>
<line x1="201.67" y1="220.9" x2="201.67" y2="247.8" stroke="#5e5e5e" stroke-width="1.6"/>
<rect x="200.12" y="223.5" width="3.1" height="13.9" fill="#0aa04a" stroke="#1a1a1a" stroke-width="0.9"/>
<line x1="205.73" y1="209.7" x2="205.73" y2="224.0" stroke="#5e5e5e" stroke-width="1.6"/>
<rect x="204.18" y="212.6" width="3.1" height="10.9" fill="#0aa04a" stroke="#1a1a1a" stroke-width="0.9"/>
<line x1="209.79" y1="208.8" x2="209.79" y2="219.2" stroke="#5e5e5e" stroke-width="1.6"/>
<rect x="208.24" y="213.1" width="3.1" height="4.7" fill="#d9411f" stroke="#1a1a1a" stroke-width="0.9"/>
<line x1="213.86" y1="207.1" x2="213.86" y2="222.7" stroke="#5e5e5e" stroke-width="1.6"/>
<rect x="212.31" y="212.3" width="3.1" height="5.5" fill="#0aa04a" stroke="#1a1a1a" stroke-width="0.9"/>
<line x1="217.92" y1="187.7" x2="217.92" y2="224.4" stroke="#5e5e5e" stroke-width="1.6"/>
<rect x="216.37" y="191.9" width="3.1" height="21.2" fill="#0aa04a" stroke="#1a1a1a" stroke-width="0.9"/>
<line x1="221.98" y1="176.0" x2="221.98" y2="196.4" stroke="#5e5e5e" stroke-width="1.6"/>
<rect x="220.43" y="191.5" width="3.1" height="1.0" fill="#d9411f" stroke="#1a1a1a" stroke-width="0.9"/>
<line x1="226.04" y1="189.4" x2="226.04" y2="204.5" stroke="#5e5e5e" stroke-width="1.6"/>
<rect x="224.49" y="192.0" width="3.1" height="1.0" fill="#d9411f" stroke="#1a1a1a" stroke-width="0.9"/>
<line x1="230.10" y1="180.3" x2="230.10" y2="206.2" stroke="#5e5e5e" stroke-width="1.6"/>
<rect x="228.55" y="192.4" width="3.1" height="6.9" fill="#d9411f" stroke="#1a1a1a" stroke-width="0.9"/>
<line x1="234.17" y1="169.4" x2="234.17" y2="199.8" stroke="#5e5e5e" stroke-width="1.6"/>
<rect x="232.62" y="170.4" width="3.1" height="28.9" fill="#0aa04a" stroke="#1a1a1a" stroke-width="0.9"/>
<line x1="238.23" y1="163.0" x2="238.23" y2="182.9" stroke="#5e5e5e" stroke-width="1.6"/>
<rect x="236.68" y="171.6" width="3.1" height="2.6" fill="#d9411f" stroke="#1a1a1a" stroke-width="0.9"/>
<line x1="242.29" y1="171.6" x2="242.29" y2="183.7" stroke="#5e5e5e" stroke-width="1.6"/>
<rect x="240.74" y="172.1" width="3.1" height="2.1" fill="#0aa04a" stroke="#1a1a1a" stroke-width="0.9"/>
<line x1="246.35" y1="156.5" x2="246.35" y2="183.8" stroke="#5e5e5e" stroke-width="1.6"/>
<rect x="244.80" y="160.4" width="3.1" height="11.9" fill="#0aa04a" stroke="#1a1a1a" stroke-width="0.9"/>
<line x1="250.41" y1="151.0" x2="250.41" y2="167.5" stroke="#5e5e5e" stroke-width="1.6"/>
<rect x="248.86" y="160.5" width="3.1" height="1.8" fill="#d9411f" stroke="#1a1a1a" stroke-width="0.9"/>
<line x1="254.48" y1="159.0" x2="254.48" y2="198.8" stroke="#5e5e5e" stroke-width="1.6"/>
<rect x="252.93" y="162.1" width="3.1" height="36.2" fill="#d9411f" stroke="#1a1a1a" stroke-width="0.9"/>
<line x1="258.54" y1="177.7" x2="258.54" y2="194.5" stroke="#5e5e5e" stroke-width="1.6"/>
<rect x="256.99" y="182.4" width="3.1" height="10.9" fill="#0aa04a" stroke="#1a1a1a" stroke-width="0.9"/>
<line x1="262.60" y1="181.2" x2="262.60" y2="204.9" stroke="#5e5e5e" stroke-width="1.6"/>
<rect x="261.05" y="182.4" width="3.1" height="17.8" fill="#d9411f" stroke="#1a1a1a" stroke-width="0.9"/>
<line x1="266.66" y1="195.3" x2="266.66" y2="209.2" stroke="#5e5e5e" stroke-width="1.6"/>
<rect x="265.11" y="200.2" width="3.1" height="2.1" fill="#d9411f" stroke="#1a1a1a" stroke-width="0.9"/>
<line x1="270.72" y1="179.8" x2="270.72" y2="206.6" stroke="#5e5e5e" stroke-width="1.6"/>
<rect x="269.17" y="181.5" width="3.1" height="21.1" fill="#0aa04a" stroke="#1a1a1a" stroke-width="0.9"/>
<line x1="274.79" y1="143.4" x2="274.79" y2="185.3" stroke="#5e5e5e" stroke-width="1.6"/>
<rect x="273.24" y="146.0" width="3.1" height="35.2" fill="#0aa04a" stroke="#1a1a1a" stroke-width="0.9"/>
<line x1="278.85" y1="141.4" x2="278.85" y2="158.7" stroke="#5e5e5e" stroke-width="1.6"/>
<rect x="277.30" y="146.0" width="3.1" height="12.1" fill="#d9411f" stroke="#1a1a1a" stroke-width="0.9"/>
<line x1="282.91" y1="140.0" x2="282.91" y2="159.4" stroke="#5e5e5e" stroke-width="1.6"/>
<rect x="281.36" y="151.2" width="3.1" height="7.5" fill="#0aa04a" stroke="#1a1a1a" stroke-width="0.9"/>
<line x1="286.97" y1="150.4" x2="286.97" y2="180.1" stroke="#5e5e5e" stroke-width="1.6"/>
<rect x="285.42" y="151.2" width="3.1" height="28.6" fill="#d9411f" stroke="#1a1a1a" stroke-width="0.9"/>
<line x1="291.03" y1="166.8" x2="291.03" y2="185.3" stroke="#5e5e5e" stroke-width="1.6"/>
<rect x="289.48" y="177.2" width="3.1" height="2.6" fill="#0aa04a" stroke="#1a1a1a" stroke-width="0.9"/>
<line x1="295.10" y1="152.1" x2="295.10" y2="178.9" stroke="#5e5e5e" stroke-width="1.6"/>
<rect x="293.55" y="154.7" width="3.1" height="22.0" fill="#0aa04a" stroke="#1a1a1a" stroke-width="0.9"/>
<line x1="299.16" y1="144.3" x2="299.16" y2="158.7" stroke="#5e5e5e" stroke-width="1.6"/>
<rect x="297.61" y="151.6" width="3.1" height="1.0" fill="#0aa04a" stroke="#1a1a1a" stroke-width="0.9"/>
<line x1="303.22" y1="121.0" x2="303.22" y2="152.1" stroke="#5e5e5e" stroke-width="1.6"/>
<rect x="301.67" y="124.8" width="3.1" height="26.9" fill="#0aa04a" stroke="#1a1a1a" stroke-width="0.9"/>
<line x1="307.28" y1="116.6" x2="307.28" y2="146.6" stroke="#5e5e5e" stroke-width="1.6"/>
<rect x="305.73" y="125.3" width="3.1" height="16.8" fill="#d9411f" stroke="#1a1a1a" stroke-width="0.9"/>
<line x1="311.34" y1="121.3" x2="311.34" y2="143.4" stroke="#5e5e5e" stroke-width="1.6"/>
<rect x="309.79" y="122.7" width="3.1" height="19.4" fill="#0aa04a" stroke="#1a1a1a" stroke-width="0.9"/>
<line x1="315.41" y1="118.4" x2="315.41" y2="146.6" stroke="#5e5e5e" stroke-width="1.6"/>
<rect x="313.86" y="122.7" width="3.1" height="17.6" fill="#d9411f" stroke="#1a1a1a" stroke-width="0.9"/>
<line x1="319.47" y1="122.3" x2="319.47" y2="142.6" stroke="#5e5e5e" stroke-width="1.6"/>
<rect x="317.92" y="127.9" width="3.1" height="12.9" fill="#0aa04a" stroke="#1a1a1a" stroke-width="0.9"/>
<line x1="323.53" y1="109.2" x2="323.53" y2="128.7" stroke="#5e5e5e" stroke-width="1.6"/>
<rect x="321.98" y="114.9" width="3.1" height="13.0" fill="#0aa04a" stroke="#1a1a1a" stroke-width="0.9"/>
<line x1="327.59" y1="110.3" x2="327.59" y2="138.6" stroke="#5e5e5e" stroke-width="1.6"/>
<rect x="326.04" y="115.0" width="3.1" height="20.3" fill="#d9411f" stroke="#1a1a1a" stroke-width="0.9"/>
<line x1="331.65" y1="127.8" x2="331.65" y2="141.5" stroke="#5e5e5e" stroke-width="1.6"/>
<rect x="330.10" y="135.0" width="3.1" height="1.0" fill="#0aa04a" stroke="#1a1a1a" stroke-width="0.9"/>
<line x1="335.72" y1="131.1" x2="335.72" y2="156.7" stroke="#5e5e5e" stroke-width="1.6"/>
<rect x="334.17" y="135.0" width="3.1" height="1.0" fill="#d9411f" stroke="#1a1a1a" stroke-width="0.9"/>
<line x1="339.78" y1="121.6" x2="339.78" y2="138.4" stroke="#5e5e5e" stroke-width="1.6"/>
<rect x="338.23" y="123.4" width="3.1" height="10.3" fill="#0aa04a" stroke="#1a1a1a" stroke-width="0.9"/>
<line x1="343.84" y1="113.5" x2="343.84" y2="128.5" stroke="#5e5e5e" stroke-width="1.6"/>
<rect x="342.29" y="123.4" width="3.1" height="4.6" fill="#d9411f" stroke="#1a1a1a" stroke-width="0.9"/>
<line x1="347.90" y1="123.4" x2="347.90" y2="145.3" stroke="#5e5e5e" stroke-width="1.6"/>
<rect x="346.35" y="128.0" width="3.1" height="1.0" fill="#d9411f" stroke="#1a1a1a" stroke-width="0.9"/>
<line x1="351.96" y1="128.5" x2="351.96" y2="161.4" stroke="#5e5e5e" stroke-width="1.6"/>
<rect x="350.41" y="129.1" width="3.1" height="30.6" fill="#d9411f" stroke="#1a1a1a" stroke-width="0.9"/>
<line x1="356.03" y1="138.9" x2="356.03" y2="166.6" stroke="#5e5e5e" stroke-width="1.6"/>
<rect x="354.48" y="145.8" width="3.1" height="13.4" fill="#0aa04a" stroke="#1a1a1a" stroke-width="0.9"/>
<line x1="360.09" y1="132.5" x2="360.09" y2="151.9" stroke="#5e5e5e" stroke-width="1.6"/>
<rect x="358.54" y="136.7" width="3.1" height="9.1" fill="#0aa04a" stroke="#1a1a1a" stroke-width="0.9"/>
<line x1="364.15" y1="135.5" x2="364.15" y2="144.1" stroke="#5e5e5e" stroke-width="1.6"/>
<rect x="362.60" y="136.7" width="3.1" height="5.7" fill="#d9411f" stroke="#1a1a1a" stroke-width="0.9"/>
<line x1="368.21" y1="126.8" x2="368.21" y2="143.3" stroke="#5e5e5e" stroke-width="1.6"/>
<rect x="366.66" y="141.0" width="3.1" height="1.4" fill="#0aa04a" stroke="#1a1a1a" stroke-width="0.9"/>
<line x1="372.27" y1="135.5" x2="372.27" y2="152.8" stroke="#5e5e5e" stroke-width="1.6"/>
<rect x="370.72" y="140.7" width="3.1" height="2.6" fill="#d9411f" stroke="#1a1a1a" stroke-width="0.9"/>
<line x1="376.34" y1="135.5" x2="376.34" y2="170.9" stroke="#5e5e5e" stroke-width="1.6"/>
<rect x="374.79" y="144.1" width="3.1" height="21.3" fill="#d9411f" stroke="#1a1a1a" stroke-width="0.9"/>
<line x1="380.40" y1="158.5" x2="380.40" y2="170.6" stroke="#5e5e5e" stroke-width="1.6"/>
<rect x="378.85" y="162.3" width="3.1" height="4.3" fill="#0aa04a" stroke="#1a1a1a" stroke-width="0.9"/>
<line x1="384.46" y1="151.9" x2="384.46" y2="167.8" stroke="#5e5e5e" stroke-width="1.6"/>
<rect x="382.91" y="159.7" width="3.1" height="2.2" fill="#0aa04a" stroke="#1a1a1a" stroke-width="0.9"/>
<line x1="388.52" y1="156.2" x2="388.52" y2="207.3" stroke="#5e5e5e" stroke-width="1.6"/>
<rect x="386.97" y="159.7" width="3.1" height="46.4" fill="#d9411f" stroke="#1a1a1a" stroke-width="0.9"/>
<line x1="392.58" y1="203.0" x2="392.58" y2="243.3" stroke="#5e5e5e" stroke-width="1.6"/>
<rect x="391.03" y="207.0" width="3.1" height="31.1" fill="#d9411f" stroke="#1a1a1a" stroke-width="0.9"/>
<line x1="396.65" y1="232.4" x2="396.65" y2="259.2" stroke="#5e5e5e" stroke-width="1.6"/>
<rect x="395.10" y="238.4" width="3.1" height="16.0" fill="#d9411f" stroke="#1a1a1a" stroke-width="0.9"/>
<line x1="400.71" y1="233.3" x2="400.71" y2="259.2" stroke="#5e5e5e" stroke-width="1.6"/>
<rect x="399.16" y="234.6" width="3.1" height="21.1" fill="#0aa04a" stroke="#1a1a1a" stroke-width="0.9"/>
<line x1="404.77" y1="222.0" x2="404.77" y2="247.1" stroke="#5e5e5e" stroke-width="1.6"/>
<rect x="403.22" y="226.7" width="3.1" height="7.4" fill="#0aa04a" stroke="#1a1a1a" stroke-width="0.9"/>
<line x1="408.83" y1="216.0" x2="408.83" y2="235.3" stroke="#5e5e5e" stroke-width="1.6"/>
<rect x="407.28" y="226.7" width="3.1" height="4.5" fill="#d9411f" stroke="#1a1a1a" stroke-width="0.9"/>
<line x1="412.89" y1="221.1" x2="412.89" y2="233.3" stroke="#5e5e5e" stroke-width="1.6"/>
<rect x="411.34" y="229.4" width="3.1" height="1.8" fill="#0aa04a" stroke="#1a1a1a" stroke-width="0.9"/>
<line x1="416.96" y1="214.2" x2="416.96" y2="229.4" stroke="#5e5e5e" stroke-width="1.6"/>
<rect x="415.41" y="228.4" width="3.1" height="1.0" fill="#0aa04a" stroke="#1a1a1a" stroke-width="0.9"/>
<line x1="421.02" y1="225.5" x2="421.02" y2="239.3" stroke="#5e5e5e" stroke-width="1.6"/>
<rect x="419.47" y="228.4" width="3.1" height="4.0" fill="#d9411f" stroke="#1a1a1a" stroke-width="0.9"/>
<line x1="425.08" y1="231.2" x2="425.08" y2="248.8" stroke="#5e5e5e" stroke-width="1.6"/>
<rect x="423.53" y="232.4" width="3.1" height="9.8" fill="#d9411f" stroke="#1a1a1a" stroke-width="0.9"/>
<line x1="429.14" y1="238.4" x2="429.14" y2="260.1" stroke="#5e5e5e" stroke-width="1.6"/>
<rect x="427.59" y="242.2" width="3.1" height="14.9" fill="#d9411f" stroke="#1a1a1a" stroke-width="0.9"/>
<line x1="433.20" y1="247.1" x2="433.20" y2="262.7" stroke="#5e5e5e" stroke-width="1.6"/>
<rect x="431.65" y="257.5" width="3.1" height="2.1" fill="#d9411f" stroke="#1a1a1a" stroke-width="0.9"/>
<line x1="437.27" y1="250.6" x2="437.27" y2="271.3" stroke="#5e5e5e" stroke-width="1.6"/>
<rect x="435.72" y="254.4" width="3.1" height="4.8" fill="#0aa04a" stroke="#1a1a1a" stroke-width="0.9"/>
<line x1="441.33" y1="248.0" x2="441.33" y2="257.5" stroke="#5e5e5e" stroke-width="1.6"/>
<rect x="439.78" y="253.2" width="3.1" height="1.0" fill="#0aa04a" stroke="#1a1a1a" stroke-width="0.9"/>
<line x1="445.39" y1="243.3" x2="445.39" y2="273.9" stroke="#5e5e5e" stroke-width="1.6"/>
<rect x="443.84" y="254.4" width="3.1" height="14.3" fill="#d9411f" stroke="#1a1a1a" stroke-width="0.9"/>
<line x1="449.45" y1="264.0" x2="449.45" y2="283.1" stroke="#5e5e5e" stroke-width="1.6"/>
<rect x="447.90" y="268.7" width="3.1" height="11.3" fill="#d9411f" stroke="#1a1a1a" stroke-width="0.9"/>
<line x1="453.51" y1="253.1" x2="453.51" y2="282.6" stroke="#5e5e5e" stroke-width="1.6"/>
<rect x="451.96" y="260.1" width="3.1" height="19.9" fill="#0aa04a" stroke="#1a1a1a" stroke-width="0.9"/>
<line x1="457.58" y1="248.0" x2="457.58" y2="267.9" stroke="#5e5e5e" stroke-width="1.6"/>
<rect x="456.03" y="249.7" width="3.1" height="10.4" fill="#0aa04a" stroke="#1a1a1a" stroke-width="0.9"/>
<line x1="461.64" y1="248.5" x2="461.64" y2="264.4" stroke="#5e5e5e" stroke-width="1.6"/>
<rect x="460.09" y="249.5" width="3.1" height="5.5" fill="#d9411f" stroke="#1a1a1a" stroke-width="0.9"/>
<line x1="465.70" y1="249.8" x2="465.70" y2="286.3" stroke="#5e5e5e" stroke-width="1.6"/>
<rect x="464.15" y="255.5" width="3.1" height="29.4" fill="#d9411f" stroke="#1a1a1a" stroke-width="0.9"/>
<line x1="469.76" y1="263.3" x2="469.76" y2="286.6" stroke="#5e5e5e" stroke-width="1.6"/>
<rect x="468.21" y="264.0" width="3.1" height="21.3" fill="#0aa04a" stroke="#1a1a1a" stroke-width="0.9"/>
<line x1="473.82" y1="258.9" x2="473.82" y2="278.0" stroke="#5e5e5e" stroke-width="1.6"/>
<rect x="472.27" y="264.1" width="3.1" height="8.7" fill="#d9411f" stroke="#1a1a1a" stroke-width="0.9"/>
<line x1="477.89" y1="268.8" x2="477.89" y2="279.7" stroke="#5e5e5e" stroke-width="1.6"/>
<rect x="476.34" y="273.3" width="3.1" height="2.1" fill="#d9411f" stroke="#1a1a1a" stroke-width="0.9"/>
<line x1="481.95" y1="268.4" x2="481.95" y2="288.3" stroke="#5e5e5e" stroke-width="1.6"/>
<rect x="480.40" y="274.5" width="3.1" height="3.5" fill="#d9411f" stroke="#1a1a1a" stroke-width="0.9"/>
<line x1="486.01" y1="276.2" x2="486.01" y2="291.8" stroke="#5e5e5e" stroke-width="1.6"/>
<rect x="484.46" y="278.5" width="3.1" height="5.5" fill="#d9411f" stroke="#1a1a1a" stroke-width="0.9"/>
<line x1="490.07" y1="275.4" x2="490.07" y2="293.5" stroke="#5e5e5e" stroke-width="1.6"/>
<rect x="488.52" y="279.7" width="3.1" height="4.3" fill="#0aa04a" stroke="#1a1a1a" stroke-width="0.9"/>
<line x1="494.13" y1="265.8" x2="494.13" y2="292.7" stroke="#5e5e5e" stroke-width="1.6"/>
<rect x="492.58" y="279.7" width="3.1" height="7.8" fill="#d9411f" stroke="#1a1a1a" stroke-width="0.9"/>
<line x1="498.20" y1="282.3" x2="498.20" y2="294.4" stroke="#5e5e5e" stroke-width="1.6"/>
<rect x="496.65" y="287.0" width="3.1" height="1.0" fill="#2b50c8" stroke="#1a1a1a" stroke-width="0.9"/>
<line x1="502.26" y1="271.0" x2="502.26" y2="289.6" stroke="#5e5e5e" stroke-width="1.6"/>
<rect x="500.71" y="276.2" width="3.1" height="10.4" fill="#0aa04a" stroke="#1a1a1a" stroke-width="0.9"/>
<line x1="506.32" y1="262.4" x2="506.32" y2="288.3" stroke="#5e5e5e" stroke-width="1.6"/>
<rect x="504.77" y="271.6" width="3.1" height="4.6" fill="#0aa04a" stroke="#1a1a1a" stroke-width="0.9"/>
<line x1="510.38" y1="258.9" x2="510.38" y2="285.7" stroke="#5e5e5e" stroke-width="1.6"/>
<rect x="508.83" y="261.5" width="3.1" height="9.5" fill="#0aa04a" stroke="#1a1a1a" stroke-width="0.9"/>
<line x1="514.44" y1="244.2" x2="514.44" y2="262.4" stroke="#5e5e5e" stroke-width="1.6"/>
<rect x="512.89" y="245.6" width="3.1" height="15.9" fill="#0aa04a" stroke="#1a1a1a" stroke-width="0.9"/>
<line x1="518.51" y1="237.3" x2="518.51" y2="258.1" stroke="#5e5e5e" stroke-width="1.6"/>
<rect x="516.96" y="245.6" width="3.1" height="6.9" fill="#d9411f" stroke="#1a1a1a" stroke-width="0.9"/>
<line x1="522.57" y1="242.5" x2="522.57" y2="255.5" stroke="#5e5e5e" stroke-width="1.6"/>
<rect x="521.02" y="251.5" width="3.1" height="1.0" fill="#0aa04a" stroke="#1a1a1a" stroke-width="0.9"/>
<line x1="526.63" y1="242.5" x2="526.63" y2="257.2" stroke="#5e5e5e" stroke-width="1.6"/>
<rect x="525.08" y="251.1" width="3.1" height="3.2" fill="#d9411f" stroke="#1a1a1a" stroke-width="0.9"/>
<line x1="530.69" y1="240.8" x2="530.69" y2="264.6" stroke="#5e5e5e" stroke-width="1.6"/>
<rect x="529.14" y="254.3" width="3.1" height="9.3" fill="#d9411f" stroke="#1a1a1a" stroke-width="0.9"/>
<line x1="534.75" y1="256.0" x2="534.75" y2="265.8" stroke="#5e5e5e" stroke-width="1.6"/>
<rect x="533.20" y="263.6" width="3.1" height="1.7" fill="#d9411f" stroke="#1a1a1a" stroke-width="0.9"/>
<line x1="538.82" y1="264.1" x2="538.82" y2="292.7" stroke="#5e5e5e" stroke-width="1.6"/>
<rect x="537.27" y="265.3" width="3.1" height="25.6" fill="#d9411f" stroke="#1a1a1a" stroke-width="0.9"/>
<line x1="542.88" y1="288.3" x2="542.88" y2="300.4" stroke="#5e5e5e" stroke-width="1.6"/>
<rect x="541.33" y="290.0" width="3.1" height="9.8" fill="#d9411f" stroke="#1a1a1a" stroke-width="0.9"/>
<line x1="546.94" y1="298.3" x2="546.94" y2="308.1" stroke="#5e5e5e" stroke-width="1.6"/>
<rect x="545.39" y="299.8" width="3.1" height="6.3" fill="#d9411f" stroke="#1a1a1a" stroke-width="0.9"/>
<line x1="551.00" y1="294.2" x2="551.00" y2="310.1" stroke="#5e5e5e" stroke-width="1.6"/>
<rect x="549.45" y="299.4" width="3.1" height="6.6" fill="#0aa04a" stroke="#1a1a1a" stroke-width="0.9"/>
<line x1="555.06" y1="296.8" x2="555.06" y2="302.9" stroke="#5e5e5e" stroke-width="1.6"/>
<rect x="553.51" y="299.7" width="3.1" height="2.3" fill="#d9411f" stroke="#1a1a1a" stroke-width="0.9"/>
<line x1="559.13" y1="276.0" x2="559.13" y2="302.5" stroke="#5e5e5e" stroke-width="1.6"/>
<rect x="557.58" y="281.2" width="3.1" height="20.8" fill="#0aa04a" stroke="#1a1a1a" stroke-width="0.9"/>
<line x1="563.19" y1="276.6" x2="563.19" y2="286.9" stroke="#5e5e5e" stroke-width="1.6"/>
<rect x="561.64" y="278.3" width="3.1" height="6.9" fill="#d9411f" stroke="#1a1a1a" stroke-width="0.9"/>
<line x1="567.25" y1="283.8" x2="567.25" y2="310.1" stroke="#5e5e5e" stroke-width="1.6"/>
<rect x="565.70" y="285.2" width="3.1" height="24.6" fill="#d9411f" stroke="#1a1a1a" stroke-width="0.9"/>
<line x1="571.31" y1="297.7" x2="571.31" y2="314.1" stroke="#5e5e5e" stroke-width="1.6"/>
<rect x="569.76" y="309.6" width="3.1" height="1.0" fill="#d9411f" stroke="#1a1a1a" stroke-width="0.9"/>
<line x1="575.37" y1="307.7" x2="575.37" y2="324.0" stroke="#5e5e5e" stroke-width="1.6"/>
<rect x="573.82" y="310.1" width="3.1" height="10.9" fill="#d9411f" stroke="#1a1a1a" stroke-width="0.9"/>
<line x1="579.44" y1="312.4" x2="579.44" y2="325.0" stroke="#5e5e5e" stroke-width="1.6"/>
<rect x="577.89" y="315.3" width="3.1" height="6.2" fill="#0aa04a" stroke="#1a1a1a" stroke-width="0.9"/>
<line x1="583.50" y1="295.6" x2="583.50" y2="315.8" stroke="#5e5e5e" stroke-width="1.6"/>
<rect x="581.95" y="296.3" width="3.1" height="19.0" fill="#0aa04a" stroke="#1a1a1a" stroke-width="0.9"/>
<line x1="587.56" y1="289.9" x2="587.56" y2="302.5" stroke="#5e5e5e" stroke-width="1.6"/>
<rect x="586.01" y="293.3" width="3.1" height="2.6" fill="#0aa04a" stroke="#1a1a1a" stroke-width="0.9"/>
<line x1="591.62" y1="286.4" x2="591.62" y2="302.9" stroke="#5e5e5e" stroke-width="1.6"/>
<rect x="590.07" y="287.6" width="3.1" height="5.7" fill="#0aa04a" stroke="#1a1a1a" stroke-width="0.9"/>
<line x1="595.68" y1="284.7" x2="595.68" y2="295.6" stroke="#5e5e5e" stroke-width="1.6"/>
<rect x="594.13" y="287.6" width="3.1" height="6.6" fill="#d9411f" stroke="#1a1a1a" stroke-width="0.9"/>
<line x1="599.75" y1="276.9" x2="599.75" y2="299.4" stroke="#5e5e5e" stroke-width="1.6"/>
<rect x="598.20" y="279.5" width="3.1" height="14.7" fill="#0aa04a" stroke="#1a1a1a" stroke-width="0.9"/>
<line x1="603.81" y1="274.3" x2="603.81" y2="282.1" stroke="#5e5e5e" stroke-width="1.6"/>
<rect x="602.26" y="277.8" width="3.1" height="1.7" fill="#0aa04a" stroke="#1a1a1a" stroke-width="0.9"/>
<line x1="607.87" y1="261.0" x2="607.87" y2="278.3" stroke="#5e5e5e" stroke-width="1.6"/>
<rect x="606.32" y="274.3" width="3.1" height="2.9" fill="#0aa04a" stroke="#1a1a1a" stroke-width="0.9"/>
<line x1="611.93" y1="256.1" x2="611.93" y2="277.8" stroke="#5e5e5e" stroke-width="1.6"/>
<rect x="610.38" y="262.7" width="3.1" height="11.1" fill="#0aa04a" stroke="#1a1a1a" stroke-width="0.9"/>
<line x1="615.99" y1="249.6" x2="615.99" y2="263.4" stroke="#5e5e5e" stroke-width="1.6"/>
<rect x="614.44" y="250.1" width="3.1" height="12.6" fill="#0aa04a" stroke="#1a1a1a" stroke-width="0.9"/>
<line x1="620.06" y1="238.0" x2="620.06" y2="251.8" stroke="#5e5e5e" stroke-width="1.6"/>
<rect x="618.51" y="248.7" width="3.1" height="1.0" fill="#0aa04a" stroke="#1a1a1a" stroke-width="0.9"/>
<line x1="624.12" y1="247.1" x2="624.12" y2="256.4" stroke="#5e5e5e" stroke-width="1.6"/>
<rect x="622.57" y="248.5" width="3.1" height="2.6" fill="#d9411f" stroke="#1a1a1a" stroke-width="0.9"/>
<line x1="628.18" y1="248.8" x2="628.18" y2="262.7" stroke="#5e5e5e" stroke-width="1.6"/>
<rect x="626.63" y="251.4" width="3.1" height="10.9" fill="#d9411f" stroke="#1a1a1a" stroke-width="0.9"/>
<line x1="632.24" y1="259.2" x2="632.24" y2="275.7" stroke="#5e5e5e" stroke-width="1.6"/>
<rect x="630.69" y="262.3" width="3.1" height="9.4" fill="#d9411f" stroke="#1a1a1a" stroke-width="0.9"/>
<line x1="636.30" y1="262.7" x2="636.30" y2="274.8" stroke="#5e5e5e" stroke-width="1.6"/>
<rect x="634.75" y="268.7" width="3.1" height="3.0" fill="#0aa04a" stroke="#1a1a1a" stroke-width="0.9"/>
<line x1="640.37" y1="259.2" x2="640.37" y2="273.9" stroke="#5e5e5e" stroke-width="1.6"/>
<rect x="638.82" y="268.2" width="3.1" height="5.2" fill="#d9411f" stroke="#1a1a1a" stroke-width="0.9"/>
<line x1="644.43" y1="270.5" x2="644.43" y2="286.9" stroke="#5e5e5e" stroke-width="1.6"/>
<rect x="642.88" y="271.7" width="3.1" height="1.4" fill="#d9411f" stroke="#1a1a1a" stroke-width="0.9"/>
<line x1="648.49" y1="261.0" x2="648.49" y2="276.5" stroke="#5e5e5e" stroke-width="1.6"/>
<rect x="646.94" y="274.4" width="3.1" height="1.3" fill="#d9411f" stroke="#1a1a1a" stroke-width="0.9"/>
<line x1="652.55" y1="266.1" x2="652.55" y2="276.5" stroke="#5e5e5e" stroke-width="1.6"/>
<rect x="651.00" y="271.7" width="3.1" height="4.0" fill="#0aa04a" stroke="#1a1a1a" stroke-width="0.9"/>
<line x1="656.61" y1="270.5" x2="656.61" y2="293.8" stroke="#5e5e5e" stroke-width="1.6"/>
<rect x="655.06" y="271.3" width="3.1" height="18.2" fill="#d9411f" stroke="#1a1a1a" stroke-width="0.9"/>
<line x1="660.68" y1="280.8" x2="660.68" y2="304.6" stroke="#5e5e5e" stroke-width="1.6"/>
<rect x="659.13" y="289.5" width="3.1" height="14.7" fill="#d9411f" stroke="#1a1a1a" stroke-width="0.9"/>
<line x1="664.74" y1="299.9" x2="664.74" y2="312.9" stroke="#5e5e5e" stroke-width="1.6"/>
<rect x="663.19" y="301.6" width="3.1" height="1.7" fill="#d9411f" stroke="#1a1a1a" stroke-width="0.9"/>
<line x1="668.80" y1="295.6" x2="668.80" y2="306.8" stroke="#5e5e5e" stroke-width="1.6"/>
<rect x="667.25" y="303.4" width="3.1" height="1.0" fill="#d9411f" stroke="#1a1a1a" stroke-width="0.9"/>
<line x1="672.86" y1="293.0" x2="672.86" y2="318.0" stroke="#5e5e5e" stroke-width="1.6"/>
<rect x="671.31" y="304.2" width="3.1" height="13.5" fill="#d9411f" stroke="#1a1a1a" stroke-width="0.9"/>
<line x1="676.92" y1="294.7" x2="676.92" y2="318.4" stroke="#5e5e5e" stroke-width="1.6"/>
<rect x="675.37" y="299.4" width="3.1" height="18.3" fill="#0aa04a" stroke="#1a1a1a" stroke-width="0.9"/>
<line x1="680.99" y1="295.6" x2="680.99" y2="312.0" stroke="#5e5e5e" stroke-width="1.6"/>
<rect x="679.44" y="299.4" width="3.1" height="5.7" fill="#d9411f" stroke="#1a1a1a" stroke-width="0.9"/>
<line x1="685.05" y1="302.5" x2="685.05" y2="317.2" stroke="#5e5e5e" stroke-width="1.6"/>
<rect x="683.50" y="303.3" width="3.1" height="11.3" fill="#d9411f" stroke="#1a1a1a" stroke-width="0.9"/>
<line x1="689.11" y1="312.0" x2="689.11" y2="323.2" stroke="#5e5e5e" stroke-width="1.6"/>
<rect x="687.56" y="314.6" width="3.1" height="4.3" fill="#d9411f" stroke="#1a1a1a" stroke-width="0.9"/>
<line x1="693.17" y1="317.2" x2="693.17" y2="350.9" stroke="#5e5e5e" stroke-width="1.6"/>
<rect x="691.62" y="318.7" width="3.1" height="31.2" fill="#d9411f" stroke="#1a1a1a" stroke-width="0.9"/>
<line x1="697.23" y1="346.2" x2="697.23" y2="361.3" stroke="#5e5e5e" stroke-width="1.6"/>
<rect x="695.68" y="349.7" width="3.1" height="7.4" fill="#d9411f" stroke="#1a1a1a" stroke-width="0.9"/>
<line x1="701.30" y1="346.2" x2="701.30" y2="361.3" stroke="#5e5e5e" stroke-width="1.6"/>
<rect x="699.75" y="351.9" width="3.1" height="5.6" fill="#0aa04a" stroke="#1a1a1a" stroke-width="0.9"/>
<line x1="705.36" y1="335.3" x2="705.36" y2="351.9" stroke="#5e5e5e" stroke-width="1.6"/>
<rect x="703.81" y="342.0" width="3.1" height="8.9" fill="#0aa04a" stroke="#1a1a1a" stroke-width="0.9"/>
<line x1="709.42" y1="341.0" x2="709.42" y2="355.7" stroke="#5e5e5e" stroke-width="1.6"/>
<rect x="707.87" y="341.9" width="3.1" height="7.8" fill="#d9411f" stroke="#1a1a1a" stroke-width="0.9"/>
<line x1="713.48" y1="348.8" x2="713.48" y2="373.0" stroke="#5e5e5e" stroke-width="1.6"/>
<rect x="711.93" y="349.7" width="3.1" height="14.7" fill="#d9411f" stroke="#1a1a1a" stroke-width="0.9"/>
<line x1="717.54" y1="359.2" x2="717.54" y2="367.9" stroke="#5e5e5e" stroke-width="1.6"/>
<rect x="715.99" y="364.4" width="3.1" height="1.7" fill="#d9411f" stroke="#1a1a1a" stroke-width="0.9"/>
<line x1="721.61" y1="354.9" x2="721.61" y2="369.2" stroke="#5e5e5e" stroke-width="1.6"/>
<rect x="720.06" y="360.1" width="3.1" height="6.0" fill="#0aa04a" stroke="#1a1a1a" stroke-width="0.9"/>
<line x1="725.67" y1="354.4" x2="725.67" y2="366.5" stroke="#5e5e5e" stroke-width="1.6"/>
<rect x="724.12" y="358.3" width="3.1" height="7.5" fill="#d9411f" stroke="#1a1a1a" stroke-width="0.9"/>
<line x1="729.73" y1="360.1" x2="729.73" y2="375.1" stroke="#5e5e5e" stroke-width="1.6"/>
<rect x="728.18" y="366.1" width="3.1" height="8.3" fill="#d9411f" stroke="#1a1a1a" stroke-width="0.9"/>
<line x1="733.79" y1="349.2" x2="733.79" y2="374.8" stroke="#5e5e5e" stroke-width="1.6"/>
<rect x="732.24" y="350.2" width="3.1" height="24.2" fill="#0aa04a" stroke="#1a1a1a" stroke-width="0.9"/>
<line x1="737.85" y1="340.5" x2="737.85" y2="354.4" stroke="#5e5e5e" stroke-width="1.6"/>
<rect x="736.30" y="349.2" width="3.1" height="1.0" fill="#0aa04a" stroke="#1a1a1a" stroke-width="0.9"/>
<line x1="741.92" y1="342.8" x2="741.92" y2="352.6" stroke="#5e5e5e" stroke-width="1.6"/>
<rect x="740.37" y="349.2" width="3.1" height="1.0" fill="#0aa04a" stroke="#1a1a1a" stroke-width="0.9"/>
<line x1="745.98" y1="341.0" x2="745.98" y2="358.9" stroke="#5e5e5e" stroke-width="1.6"/>
<rect x="744.43" y="345.4" width="3.1" height="5.5" fill="#0aa04a" stroke="#1a1a1a" stroke-width="0.9"/>
<line x1="750.04" y1="324.3" x2="750.04" y2="345.7" stroke="#5e5e5e" stroke-width="1.6"/>
<rect x="748.49" y="337.6" width="3.1" height="7.8" fill="#0aa04a" stroke="#1a1a1a" stroke-width="0.9"/>
<line x1="754.10" y1="328.4" x2="754.10" y2="342.8" stroke="#5e5e5e" stroke-width="1.6"/>
<rect x="752.55" y="331.2" width="3.1" height="6.4" fill="#0aa04a" stroke="#1a1a1a" stroke-width="0.9"/>
<line x1="758.16" y1="324.9" x2="758.16" y2="341.6" stroke="#5e5e5e" stroke-width="1.6"/>
<rect x="756.61" y="331.2" width="3.1" height="9.3" fill="#d9411f" stroke="#1a1a1a" stroke-width="0.9"/>
<line x1="762.23" y1="328.9" x2="762.23" y2="341.0" stroke="#5e5e5e" stroke-width="1.6"/>
<rect x="760.68" y="333.3" width="3.1" height="6.9" fill="#0aa04a" stroke="#1a1a1a" stroke-width="0.9"/>
<line x1="766.29" y1="326.0" x2="766.29" y2="351.4" stroke="#5e5e5e" stroke-width="1.6"/>
<rect x="764.74" y="334.4" width="3.1" height="11.3" fill="#d9411f" stroke="#1a1a1a" stroke-width="0.9"/>
<line x1="770.35" y1="340.5" x2="770.35" y2="353.5" stroke="#5e5e5e" stroke-width="1.6"/>
<rect x="768.80" y="346.0" width="3.1" height="3.9" fill="#d9411f" stroke="#1a1a1a" stroke-width="0.9"/>
<line x1="774.41" y1="340.5" x2="774.41" y2="353.5" stroke="#5e5e5e" stroke-width="1.6"/>
<rect x="772.86" y="348.4" width="3.1" height="2.0" fill="#0aa04a" stroke="#1a1a1a" stroke-width="0.9"/>
<line x1="778.47" y1="316.1" x2="778.47" y2="354.3" stroke="#5e5e5e" stroke-width="1.6"/>
<rect x="776.92" y="319.5" width="3.1" height="28.9" fill="#0aa04a" stroke="#1a1a1a" stroke-width="0.9"/>
<line x1="782.54" y1="317.1" x2="782.54" y2="371.6" stroke="#5e5e5e" stroke-width="1.6"/>
<rect x="780.99" y="319.7" width="3.1" height="45.0" fill="#d9411f" stroke="#1a1a1a" stroke-width="0.9"/>
<line x1="786.60" y1="346.5" x2="786.60" y2="367.3" stroke="#5e5e5e" stroke-width="1.6"/>
<rect x="785.05" y="347.4" width="3.1" height="14.7" fill="#0aa04a" stroke="#1a1a1a" stroke-width="0.9"/>
<line x1="790.66" y1="344.4" x2="790.66" y2="357.2" stroke="#5e5e5e" stroke-width="1.6"/>
<rect x="789.11" y="347.4" width="3.1" height="9.2" fill="#d9411f" stroke="#1a1a1a" stroke-width="0.9"/>
<line x1="794.72" y1="343.9" x2="794.72" y2="361.7" stroke="#5e5e5e" stroke-width="1.6"/>
<rect x="793.17" y="345.7" width="3.1" height="10.9" fill="#0aa04a" stroke="#1a1a1a" stroke-width="0.9"/>
<line x1="798.78" y1="343.4" x2="798.78" y2="374.2" stroke="#5e5e5e" stroke-width="1.6"/>
<rect x="797.23" y="345.7" width="3.1" height="19.9" fill="#d9411f" stroke="#1a1a1a" stroke-width="0.9"/>
<line x1="802.85" y1="360.0" x2="802.85" y2="379.7" stroke="#5e5e5e" stroke-width="1.6"/>
<rect x="801.30" y="361.2" width="3.1" height="4.4" fill="#0aa04a" stroke="#1a1a1a" stroke-width="0.9"/>
<line x1="806.91" y1="351.4" x2="806.91" y2="365.9" stroke="#5e5e5e" stroke-width="1.6"/>
<rect x="805.36" y="354.3" width="3.1" height="11.3" fill="#0aa04a" stroke="#1a1a1a" stroke-width="0.9"/>
<line x1="810.97" y1="346.2" x2="810.97" y2="359.5" stroke="#5e5e5e" stroke-width="1.6"/>
<rect x="809.42" y="351.4" width="3.1" height="2.4" fill="#0aa04a" stroke="#1a1a1a" stroke-width="0.9"/>
<line x1="815.03" y1="350.8" x2="815.03" y2="393.2" stroke="#5e5e5e" stroke-width="1.6"/>
<rect x="813.48" y="351.7" width="3.1" height="41.2" fill="#d9411f" stroke="#1a1a1a" stroke-width="0.9"/>
<line x1="819.09" y1="389.8" x2="819.09" y2="405.0" stroke="#5e5e5e" stroke-width="1.6"/>
<rect x="817.54" y="392.5" width="3.1" height="11.0" fill="#d9411f" stroke="#1a1a1a" stroke-width="0.9"/>
<line x1="823.16" y1="399.4" x2="823.16" y2="408.9" stroke="#5e5e5e" stroke-width="1.6"/>
<rect x="821.61" y="403.7" width="3.1" height="3.1" fill="#d9411f" stroke="#1a1a1a" stroke-width="0.9"/>
<line x1="827.22" y1="398.3" x2="827.22" y2="436.4" stroke="#5e5e5e" stroke-width="1.6"/>
<rect x="825.67" y="403.8" width="3.1" height="28.6" fill="#d9411f" stroke="#1a1a1a" stroke-width="0.9"/>
<line x1="831.28" y1="426.7" x2="831.28" y2="453.1" stroke="#5e5e5e" stroke-width="1.6"/>
<rect x="829.73" y="432.9" width="3.1" height="16.8" fill="#d9411f" stroke="#1a1a1a" stroke-width="0.9"/>
<line x1="835.34" y1="446.2" x2="835.34" y2="469.6" stroke="#5e5e5e" stroke-width="1.6"/>
<rect x="833.79" y="449.7" width="3.1" height="1.0" fill="#d9411f" stroke="#1a1a1a" stroke-width="0.9"/>
<line x1="839.40" y1="431.2" x2="839.40" y2="450.6" stroke="#5e5e5e" stroke-width="1.6"/>
<rect x="837.85" y="431.5" width="3.1" height="18.7" fill="#0aa04a" stroke="#1a1a1a" stroke-width="0.9"/>
<line x1="843.47" y1="430.7" x2="843.47" y2="474.8" stroke="#5e5e5e" stroke-width="1.6"/>
<rect x="841.92" y="431.5" width="3.1" height="32.0" fill="#d9411f" stroke="#1a1a1a" stroke-width="0.9"/>
<line x1="847.53" y1="460.6" x2="847.53" y2="481.3" stroke="#5e5e5e" stroke-width="1.6"/>
<rect x="845.98" y="461.3" width="3.1" height="19.0" fill="#d9411f" stroke="#1a1a1a" stroke-width="0.9"/>
<line x1="851.59" y1="467.0" x2="851.59" y2="483.4" stroke="#5e5e5e" stroke-width="1.6"/>
<rect x="850.04" y="476.5" width="3.1" height="3.8" fill="#0aa04a" stroke="#1a1a1a" stroke-width="0.9"/>
<line x1="855.65" y1="473.9" x2="855.65" y2="497.3" stroke="#5e5e5e" stroke-width="1.6"/>
<rect x="854.10" y="476.2" width="3.1" height="18.5" fill="#d9411f" stroke="#1a1a1a" stroke-width="0.9"/>
<line x1="859.71" y1="483.4" x2="859.71" y2="495.9" stroke="#5e5e5e" stroke-width="1.6"/>
<rect x="858.16" y="491.2" width="3.1" height="4.0" fill="#0aa04a" stroke="#1a1a1a" stroke-width="0.9"/>
<line x1="863.78" y1="447.1" x2="863.78" y2="491.7" stroke="#5e5e5e" stroke-width="1.6"/>
<rect x="862.23" y="450.6" width="3.1" height="40.1" fill="#0aa04a" stroke="#1a1a1a" stroke-width="0.9"/>
<line x1="867.84" y1="454.4" x2="867.84" y2="471.3" stroke="#5e5e5e" stroke-width="1.6"/>
<rect x="866.29" y="455.4" width="3.1" height="4.7" fill="#d9411f" stroke="#1a1a1a" stroke-width="0.9"/>
<line x1="871.90" y1="429.4" x2="871.90" y2="480.0" stroke="#5e5e5e" stroke-width="1.6"/>
<rect x="870.35" y="444.5" width="3.1" height="15.6" fill="#0aa04a" stroke="#1a1a1a" stroke-width="0.9"/>
<line x1="875.96" y1="436.4" x2="875.96" y2="455.7" stroke="#5e5e5e" stroke-width="1.6"/>
<rect x="874.41" y="444.5" width="3.1" height="5.2" fill="#d9411f" stroke="#1a1a1a" stroke-width="0.9"/>
<line x1="880.02" y1="440.2" x2="880.02" y2="458.3" stroke="#5e5e5e" stroke-width="1.6"/>
<rect x="878.47" y="450.2" width="3.1" height="6.4" fill="#d9411f" stroke="#1a1a1a" stroke-width="0.9"/>
<line x1="884.09" y1="445.0" x2="884.09" y2="468.7" stroke="#5e5e5e" stroke-width="1.6"/>
<rect x="882.54" y="454.4" width="3.1" height="2.2" fill="#0aa04a" stroke="#1a1a1a" stroke-width="0.9"/>
<line x1="888.15" y1="450.6" x2="888.15" y2="468.7" stroke="#5e5e5e" stroke-width="1.6"/>
<rect x="886.60" y="451.9" width="3.1" height="10.4" fill="#d9411f" stroke="#1a1a1a" stroke-width="0.9"/>
<line x1="892.21" y1="455.0" x2="892.21" y2="482.7" stroke="#5e5e5e" stroke-width="1.6"/>
<rect x="890.66" y="462.6" width="3.1" height="6.9" fill="#d9411f" stroke="#1a1a1a" stroke-width="0.9"/>
<line x1="896.27" y1="437.2" x2="896.27" y2="470.6" stroke="#5e5e5e" stroke-width="1.6"/>
<rect x="894.72" y="441.9" width="3.1" height="28.1" fill="#0aa04a" stroke="#1a1a1a" stroke-width="0.9"/>
<line x1="900.33" y1="441.1" x2="900.33" y2="464.8" stroke="#5e5e5e" stroke-width="1.6"/>
<rect x="898.78" y="441.9" width="3.1" height="17.3" fill="#d9411f" stroke="#1a1a1a" stroke-width="0.9"/>
<line x1="904.40" y1="448.8" x2="904.40" y2="469.2" stroke="#5e5e5e" stroke-width="1.6"/>
<rect x="902.85" y="451.5" width="3.1" height="7.7" fill="#0aa04a" stroke="#1a1a1a" stroke-width="0.9"/>
<line x1="908.46" y1="451.6" x2="908.46" y2="470.6" stroke="#5e5e5e" stroke-width="1.6"/>
<rect x="906.91" y="452.8" width="3.1" height="9.5" fill="#d9411f" stroke="#1a1a1a" stroke-width="0.9"/>
<line x1="912.52" y1="449.3" x2="912.52" y2="473.5" stroke="#5e5e5e" stroke-width="1.6"/>
<rect x="910.97" y="462.6" width="3.1" height="9.7" fill="#d9411f" stroke="#1a1a1a" stroke-width="0.9"/>
<line x1="916.58" y1="458.0" x2="916.58" y2="484.8" stroke="#5e5e5e" stroke-width="1.6"/>
<rect x="915.03" y="464.4" width="3.1" height="7.9" fill="#0aa04a" stroke="#1a1a1a" stroke-width="0.9"/>
<line x1="920.64" y1="435.5" x2="920.64" y2="464.9" stroke="#5e5e5e" stroke-width="1.6"/>
<rect x="919.09" y="446.4" width="3.1" height="18.0" fill="#0aa04a" stroke="#1a1a1a" stroke-width="0.9"/>
<line x1="924.71" y1="440.1" x2="924.71" y2="474.0" stroke="#5e5e5e" stroke-width="1.6"/>
<rect x="923.16" y="446.4" width="3.1" height="26.3" fill="#d9411f" stroke="#1a1a1a" stroke-width="0.9"/>
</g>
<line x1="412.9" y1="264" x2="977.4" y2="466.1" stroke="#000" stroke-width="2.0" stroke-dasharray="2.7,1.1"/>
<path d="M321.8,106.2 L323.6,104.2 L325.4,106.2" fill="none" stroke="#0db04b" stroke-width="1"/>
<path d="M853.8,500.6 L855.6,502.4 L857.4,500.6" fill="none" stroke="#ef4423" stroke-width="1"/>
</g>
<g font-family="Liberation Sans, sans-serif" font-size="11.6" fill="#666">
<text x="1123" y="64.7">1.24000</text>
<text x="1123" y="136.79999999999998">1.22000</text>
<text x="1123" y="497.2">1.12000</text>
<text x="1123" y="588.8000000000001">200K</text>
<text x="1123" y="655.9000000000001">0K</text>
</g>
<g font-family="Liberation Sans, sans-serif" font-size="12" fill="#606060" text-anchor="middle">
<g clip-path="url(#cp2)">
<text x="75.8" y="680.3">Mar '21</text>
<text x="169.4" y="680.3">Apr '21</text>
<text x="258.7" y="680.3">May '21</text>
<text x="343.9" y="680.3">Jun '21</text>
<text x="433.3" y="680.3">Jul '21</text>
<text x="522.8" y="680.3">Aug '21</text>
<text x="612" y="680.3">Sep '21</text>
<text x="701.5" y="680.3">Oct '21</text>
<text x="786.6" y="680.3">Nov '21</text>
<text x="876" y="680.3">Dec '21</text>
<text x="985.4" y="680.3">Jan '22</text>
</g></g>
<defs><clipPath id="cp2"><rect x="59" y="662" width="1121" height="31"/></clipPath></defs>
<path d="M1110.6,204.6 L1117.6,194.1 L1169.0,194.1 L1169.0,215.1 L1117.6,215.1 Z" fill="#000"/>
<text x="1122.1999999999998" y="208.9" font-family="Liberation Sans, sans-serif" font-weight="bold" font-size="12" fill="#fff">1.20000</text>
<path d="M1110.6,276.8 L1117.6,266.3 L1169.0,266.3 L1169.0,287.3 L1117.6,287.3 Z" fill="#000"/>
<text x="1122.1999999999998" y="281.1" font-family="Liberation Sans, sans-serif" font-weight="bold" font-size="12" fill="#fff">1.18000</text>
<path d="M1110.6,321.5 L1117.6,311.0 L1169.0,311.0 L1169.0,332.0 L1117.6,332.0 Z" fill="#000"/>
<text x="1122.1999999999998" y="325.8" font-family="Liberation Sans, sans-serif" font-weight="bold" font-size="12" fill="#fff">1.16759</text>
<path d="M1110.6,349.0 L1117.6,338.5 L1169.0,338.5 L1169.0,359.5 L1117.6,359.5 Z" fill="#000"/>
<text x="1122.1999999999998" y="353.3" font-family="Liberation Sans, sans-serif" font-weight="bold" font-size="12" fill="#fff">1.16000</text>
<path d="M1110.6,414.8 L1117.6,404.3 L1169.0,404.3 L1169.0,425.3 L1117.6,425.3 Z" fill="#ee4125"/>
<text x="1122.1999999999998" y="419.1" font-family="Liberation Sans, sans-serif" font-weight="bold" font-size="12" fill="#fff">1.14169</text>
<path d="M1110.6,472.4 L1117.6,461.9 L1169.0,461.9 L1169.0,482.9 L1117.6,482.9 Z" fill="#ee4125"/>
<text x="1122.1999999999998" y="476.7" font-family="Liberation Sans, sans-serif" font-weight="bold" font-size="12" fill="#fff">1.12571</text>
<path d="M1110.6,598.2 L1117.6,587.7 L1154.1,587.7 L1154.1,608.7 L1117.6,608.7 Z" fill="#ee4125"/>
<text x="1122.1999999999998" y="602.5" font-family="Liberation Sans, sans-serif" font-weight="bold" font-size="12.6" fill="#fff">163K</text>
</svg>
<div class="tb">
<span class="b" style="left:24px">Range:</span>
<span style="left:76.5px">1D</span>
<span style="left:102px">5D</span>
<span style="left:128px">1M</span>
<span style="left:156px">3M</span>
<span style="left:184px">6M</span>
<span style="left:213px">9M</span>
<span class="b" style="left:241px;color:#1660b8">1Y</span>
<span style="left:266px">2Y</span>
<span style="left:291px">3Y</span>
<span style="left:316px">5Y</span>
<span style="left:341px">10Y</span>
<span style="left:372px">20Y</span>
<span style="left:403px">MAX</span>
<span class="b" style="left:446px">Frequency:</span>
<span style="left:524px">Daily</span>
<span style="left:598px">1Y</span>
<span class="b" style="left:655.8px">Date:</span>
<span class="b" style="left:1085px;color:#0b5394;font-size:13.5px;letter-spacing:0.4px;top:13.2px">tutorial</span>
</div>
<svg width="1180" height="693" viewBox="0 0 1180 693" style="position:absolute;left:0;top:0">
<path d="M566.4,16.6 L570.0,20.2 L573.6,16.6" fill="none" stroke="#000" stroke-width="2.2" stroke-linecap="butt" stroke-linejoin="miter"/>
<path d="M625.6999999999999,16.6 L629.3,20.2 L632.9,16.6" fill="none" stroke="#000" stroke-width="2.2" stroke-linecap="butt" stroke-linejoin="miter"/>
<line x1="587.8" y1="5" x2="587.8" y2="30" stroke="#d5d5d5" stroke-width="1"/>
<rect x="695.6" y="5.4" width="26.8" height="22.9" rx="2" fill="#fff" stroke="#1a6bb5" stroke-width="1.05"/>
<g>
<rect x="702" y="11" width="14.1" height="12.9" rx="1" fill="#0b4f8f"/>
<rect x="704.6" y="9.2" width="2.6" height="4" rx="0.9" fill="#0b4f8f"/>
<rect x="710.9" y="9.2" width="2.6" height="4" rx="0.9" fill="#0b4f8f"/>
<rect x="705.4" y="9.9" width="1" height="2.6" fill="#cfe3f5"/>
<rect x="711.7" y="9.9" width="1" height="2.6" fill="#cfe3f5"/>
<rect x="703.0" y="14.3" width="2.3" height="3.0" fill="#fff"/>
<rect x="703.0" y="17.8" width="2.3" height="2.7" fill="#fff"/>
<rect x="703.0" y="21.0" width="2.3" height="2.1" fill="#fff"/>
<rect x="706.3" y="14.3" width="2.3" height="3.0" fill="#fff"/>
<rect x="706.3" y="17.8" width="2.3" height="2.7" fill="#fff"/>
<rect x="706.3" y="21.0" width="2.3" height="2.1" fill="#fff"/>
<rect x="709.6" y="14.3" width="2.3" height="3.0" fill="#fff"/>
<rect x="709.6" y="17.8" width="2.3" height="2.7" fill="#fff"/>
<rect x="709.6" y="21.0" width="2.3" height="2.1" fill="#fff"/>
<rect x="712.9" y="14.3" width="2.3" height="3.0" fill="#fff"/>
<rect x="712.9" y="17.8" width="2.3" height="2.7" fill="#fff"/>
<rect x="712.9" y="21.0" width="2.3" height="2.1" fill="#fff"/>
</g>
<g>
<rect x="1068.4" y="15.5" width="13" height="10.8" rx="1" fill="none" stroke="#0b5394" stroke-width="1.3"/>
<line x1="1071.4" y1="15.5" x2="1071.4" y2="26.3" stroke="#0b5394" stroke-width="1.1"/>
<line x1="1078.4" y1="15.5" x2="1078.4" y2="26.3" stroke="#0b5394" stroke-width="1.1"/>
<line x1="1071.4" y1="20.9" x2="1078.4" y2="20.9" stroke="#0b5394" stroke-width="1.2"/>
<line x1="1068.4" y1="18.2" x2="1071.4" y2="18.2" stroke="#0b5394" stroke-width="0.9"/>
<line x1="1078.4" y1="18.2" x2="1081.4" y2="18.2" stroke="#0b5394" stroke-width="0.9"/>
<line x1="1068.4" y1="20.9" x2="1071.4" y2="20.9" stroke="#0b5394" stroke-width="0.9"/>
<line x1="1078.4" y1="20.9" x2="1081.4" y2="20.9" stroke="#0b5394" stroke-width="0.9"/>
<line x1="1068.4" y1="23.6" x2="1071.4" y2="23.6" stroke="#0b5394" stroke-width="0.9"/>
<line x1="1078.4" y1="23.6" x2="1081.4" y2="23.6" stroke="#0b5394" stroke-width="0.9"/>
</g>
<line x1="1144.8" y1="12.5" x2="1157.1" y2="12.5" stroke="#000" stroke-width="2.9" stroke-linecap="round"/>
<line x1="1144.8" y1="17.45" x2="1157.1" y2="17.45" stroke="#000" stroke-width="2.9" stroke-linecap="round"/>
<line x1="1144.8" y1="22.4" x2="1157.1" y2="22.4" stroke="#000" stroke-width="2.9" stroke-linecap="round"/>
<path d="M45.6,62.800000000000004 L49.4,66.4 L45.6,70.0" fill="none" stroke="#000" stroke-width="2.1" stroke-linecap="butt" stroke-linejoin="miter"/>
<path d="M45.6,92.80000000000001 L49.4,96.4 L45.6,100.0" fill="none" stroke="#000" stroke-width="2.1" stroke-linecap="butt" stroke-linejoin="miter"/>
<path d="M45.6,122.5 L49.4,126.1 L45.6,129.7" fill="none" stroke="#000" stroke-width="2.1" stroke-linecap="butt" stroke-linejoin="miter"/>
<path d="M45.6,152.1 L49.4,155.7 L45.6,159.29999999999998" fill="none" stroke="#000" stroke-width="2.1" stroke-linecap="butt" stroke-linejoin="miter"/>
<path d="M45.6,182.6 L49.4,186.2 L45.6,189.79999999999998" fill="none" stroke="#000" stroke-width="2.1" stroke-linecap="butt" stroke-linejoin="miter"/>
<path d="M45.6,212.20000000000002 L49.4,215.8 L45.6,219.4" fill="none" stroke="#000" stroke-width="2.1" stroke-linecap="butt" stroke-linejoin="miter"/>
<line x1="23.8" y1="70.3" x2="32" y2="62.1" fill="none" stroke="#111" stroke-width="1.25"/>
<circle cx="22.4" cy="71.7" r="2" fill="#fff" stroke="#111" stroke-width="1.1"/>
<circle cx="33.4" cy="60.7" r="2" fill="#fff" stroke="#111" stroke-width="1.1"/>
<line x1="20.5" y1="101.3" x2="22.8" y2="92.8" fill="none" stroke="#111" stroke-width="1.25"/>
<circle cx="20.1" cy="103.1" r="1.9" fill="#fff" stroke="#111" stroke-width="1.1"/>
<circle cx="23.2" cy="91" r="1.9" fill="#fff" stroke="#111" stroke-width="1.1"/>
<line x1="26.9" y1="91.4" x2="37.5" y2="91.4" stroke="#111" stroke-width="1"/>
<line x1="26.9" y1="95.2" x2="37.5" y2="95.2" stroke="#555" stroke-width="1.4"/>
<line x1="26.9" y1="99.1" x2="37.5" y2="99.1" stroke="#555" stroke-width="1.4"/>
<line x1="26.9" y1="103.1" x2="37.5" y2="103.1" stroke="#555" stroke-width="1.4"/>
<rect x="21.4" y="121.6" width="12.4" height="10.6" fill="none" stroke="#111" stroke-width="1.25"/>
<circle cx="21.4" cy="121.6" r="1.7" fill="#fff" stroke="#111" stroke-width="1"/>
<circle cx="21.4" cy="132.2" r="1.7" fill="#fff" stroke="#111" stroke-width="1"/>
<circle cx="33.8" cy="121.6" r="1.7" fill="#fff" stroke="#111" stroke-width="1"/>
<circle cx="33.8" cy="132.2" r="1.7" fill="#fff" stroke="#111" stroke-width="1"/>
<path d="M24.3,147.2 L31.4,147.2 L31.4,154.6 L35.4,154.6 L27.85,164.6 L20.3,154.6 L24.3,154.6 Z" fill="#fff" stroke="#111" stroke-width="1.3" stroke-linejoin="miter"/>
<circle cx="27.6" cy="185.9" r="9.0" fill="none" stroke="#111" stroke-width="1.35"/>
<text x="27.6" y="190.3" text-anchor="middle" font-family="Liberation Sans, sans-serif" font-size="12.5" fill="#111">1</text>
<line x1="21.6" y1="209.4" x2="36.7" y2="209.4" stroke="#111" stroke-width="1"/>
<line x1="21.6" y1="218.5" x2="33.6" y2="218.5" stroke="#111" stroke-width="1"/>
<line x1="21.6" y1="222.9" x2="36.7" y2="222.9" stroke="#555" stroke-width="1.4"/>
<circle cx="20.1" cy="209.4" r="1.7" fill="#fff" stroke="#111" stroke-width="1"/>
<circle cx="20.1" cy="218.9" r="1.7" fill="#fff" stroke="#111" stroke-width="1"/>
<circle cx="20.1" cy="222.9" r="1.7" fill="#fff" stroke="#111" stroke-width="1"/>
<circle cx="35.3" cy="218.5" r="1.7" fill="#fff" stroke="#111" stroke-width="1"/>
<line x1="27.6" y1="211" x2="27.6" y2="221.6" stroke="#111" stroke-width="1"/>
<path d="M26,212.6 L27.6,210.4 L29.2,212.6 Z M26,219.8 L27.6,222 L29.2,219.8 Z" fill="#111"/>
<path d="M20,255 L20,245.4 A8.05,8.05 0 0 1 36.1,245.4 L36.1,255 L31.3,255 L31.3,245.4 A3.25,3.25 0 0 0 24.8,245.4 L24.8,255 Z" fill="#fff" stroke="#111" stroke-width="1.3" stroke-linejoin="miter"/>
<line x1="20" y1="251.1" x2="24.8" y2="251.1" stroke="#111" stroke-width="1.2"/>
<line x1="31.3" y1="251.1" x2="36.1" y2="251.1" stroke="#111" stroke-width="1.2"/>
</svg>
</body></html>
